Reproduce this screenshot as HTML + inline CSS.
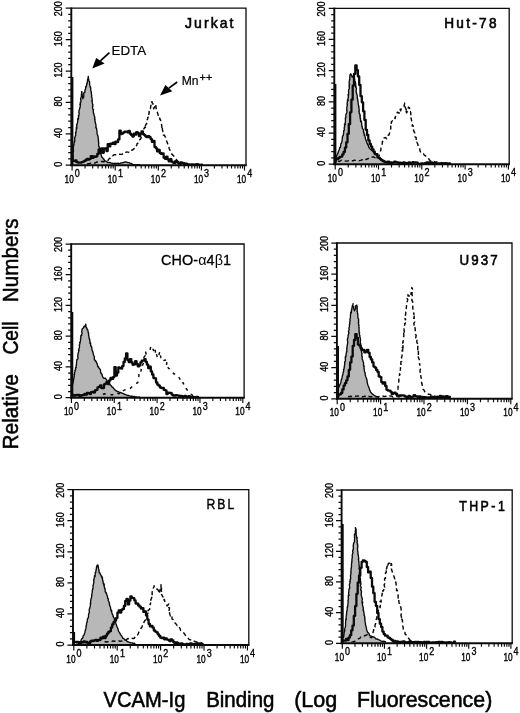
<!DOCTYPE html>
<html lang="en">
<head>
<meta charset="utf-8">
<title>VCAM-Ig binding histograms</title>
<style>
html,body{margin:0;padding:0;background:#fff;}
body{width:520px;height:713px;overflow:hidden;font-family:"Liberation Sans", sans-serif;}
svg{display:block;filter:grayscale(1);}
</style>
</head>
<body>
<svg width="520" height="713" viewBox="0 0 520 713" font-family='"Liberation Sans", sans-serif' fill="#000">
<rect x="0" y="0" width="520" height="713" fill="#fff"/>
<g id="p1">
<path d="M72.6 160.0 L72.7 158.9 L72.8 158.4 L72.9 156.9 L72.9 155.6 L73.1 155.0 L73.0 153.4 L73.3 152.3 L73.1 152.0 L73.5 151.4 L73.4 149.9 L73.3 148.2 L73.4 147.7 L73.5 146.2 L73.7 144.9 L74.0 144.5 L74.0 143.6 L74.2 142.6 L74.2 141.5 L74.7 141.4 L74.8 140.1 L74.7 138.2 L74.8 137.1 L75.1 137.0 L75.3 136.1 L75.7 135.3 L75.5 132.4 L75.8 133.3 L76.0 132.4 L76.3 129.4 L76.2 130.0 L76.4 127.4 L76.9 128.4 L76.7 125.4 L76.7 124.3 L77.0 125.0 L77.3 123.4 L77.7 121.5 L77.8 120.3 L77.8 119.2 L77.8 118.5 L78.4 119.3 L78.6 116.6 L78.4 115.4 L78.8 115.9 L79.2 113.1 L78.8 112.4 L79.0 112.7 L79.0 110.5 L79.6 109.0 L79.7 108.4 L79.7 107.7 L79.9 108.1 L80.3 106.1 L79.9 104.1 L80.5 104.9 L80.2 102.3 L80.8 102.4 L81.0 100.1 L80.9 100.8 L80.6 98.6 L81.4 96.7 L81.3 96.1 L81.5 95.2 L81.3 95.0 L81.7 92.9 L81.5 91.7 L82.1 91.8 L81.8 93.1 L82.0 95.0 L82.2 93.9 L82.3 96.1 L82.7 96.6 L82.7 98.7 L83.5 97.1 L83.6 97.5 L83.8 95.7 L83.7 93.3 L84.6 91.9 L84.9 92.5 L84.9 89.8 L85.2 89.8 L85.7 88.4 L85.6 86.7 L86.1 87.3 L86.2 86.2 L86.7 85.3 L86.8 83.2 L87.2 83.5 L87.4 81.3 L87.5 81.3 L87.6 79.7 L88.0 78.5 L88.3 76.3 L88.7 79.5 L88.6 79.9 L88.9 81.0 L89.4 81.3 L89.5 81.5 L89.6 82.4 L89.6 84.6 L90.0 86.1 L90.6 87.0 L90.1 87.2 L90.8 88.3 L90.6 89.1 L91.1 91.8 L91.3 91.7 L91.3 92.4 L91.3 93.1 L91.7 95.6 L91.5 96.8 L91.5 97.1 L91.8 97.0 L92.2 99.7 L92.4 100.4 L91.9 100.4 L92.1 101.8 L92.3 102.3 L92.5 104.3 L92.9 104.5 L92.7 107.2 L92.5 106.0 L92.7 108.9 L93.2 109.5 L93.6 109.6 L93.2 109.9 L93.3 112.0 L93.7 113.9 L93.7 113.3 L94.2 115.5 L94.5 116.5 L94.9 118.0 L94.5 118.7 L94.6 119.2 L95.0 119.1 L95.0 121.8 L95.3 121.8 L95.6 123.8 L95.9 124.7 L96.1 125.1 L95.8 127.4 L96.4 128.5 L96.4 127.6 L96.8 129.8 L96.8 130.3 L97.1 132.4 L97.0 133.5 L97.1 133.9 L97.6 135.1 L97.7 135.9 L98.0 136.1 L98.2 138.6 L98.2 138.8 L98.5 139.5 L98.3 141.4 L98.5 141.2 L98.8 143.0 L98.6 144.0 L98.7 145.6 L98.9 146.6 L99.3 147.0 L99.2 147.8 L99.5 149.4 L99.6 150.9 L99.7 152.1 L100.0 153.1 L100.6 153.4 L101.2 154.6 L101.5 156.0 L102.0 157.3 L102.6 157.6 L103.4 159.0 L104.0 159.2 L104.5 160.7 L105.3 160.9 L106.3 161.3 L107.0 161.9 L108.0 162.7 L109.1 162.4 L110.0 162.7 L110.9 163.0 L112.0 163.1 L113.1 163.6 L114.0 163.3 L115.0 163.2 L116.1 163.6 L117.0 163.3 L118.0 163.1 L118.9 163.6 L119.9 163.4 L121.1 162.8 L122.2 162.9 L123.4 162.5 L124.6 162.1 L125.7 161.9 L126.7 162.2 L127.9 162.6 L129.0 162.7 L130.0 163.2 L131.2 163.4 L132.3 164.1 L133.4 164.6 L134.4 164.7 L135.7 164.8 L136.7 164.9 L137.9 164.7 L139.0 164.7 L140.0 165.0 L140.0 165.2 L72.6 165.2 Z" fill="#b8b8b8" stroke="none"/>
<path d="M72.6 160.0 L72.7 158.9 L72.8 158.4 L72.9 156.9 L72.9 155.6 L73.1 155.0 L73.0 153.4 L73.3 152.3 L73.1 152.0 L73.5 151.4 L73.4 149.9 L73.3 148.2 L73.4 147.7 L73.5 146.2 L73.7 144.9 L74.0 144.5 L74.0 143.6 L74.2 142.6 L74.2 141.5 L74.7 141.4 L74.8 140.1 L74.7 138.2 L74.8 137.1 L75.1 137.0 L75.3 136.1 L75.7 135.3 L75.5 132.4 L75.8 133.3 L76.0 132.4 L76.3 129.4 L76.2 130.0 L76.4 127.4 L76.9 128.4 L76.7 125.4 L76.7 124.3 L77.0 125.0 L77.3 123.4 L77.7 121.5 L77.8 120.3 L77.8 119.2 L77.8 118.5 L78.4 119.3 L78.6 116.6 L78.4 115.4 L78.8 115.9 L79.2 113.1 L78.8 112.4 L79.0 112.7 L79.0 110.5 L79.6 109.0 L79.7 108.4 L79.7 107.7 L79.9 108.1 L80.3 106.1 L79.9 104.1 L80.5 104.9 L80.2 102.3 L80.8 102.4 L81.0 100.1 L80.9 100.8 L80.6 98.6 L81.4 96.7 L81.3 96.1 L81.5 95.2 L81.3 95.0 L81.7 92.9 L81.5 91.7 L82.1 91.8 L81.8 93.1 L82.0 95.0 L82.2 93.9 L82.3 96.1 L82.7 96.6 L82.7 98.7 L83.5 97.1 L83.6 97.5 L83.8 95.7 L83.7 93.3 L84.6 91.9 L84.9 92.5 L84.9 89.8 L85.2 89.8 L85.7 88.4 L85.6 86.7 L86.1 87.3 L86.2 86.2 L86.7 85.3 L86.8 83.2 L87.2 83.5 L87.4 81.3 L87.5 81.3 L87.6 79.7 L88.0 78.5 L88.3 76.3 L88.7 79.5 L88.6 79.9 L88.9 81.0 L89.4 81.3 L89.5 81.5 L89.6 82.4 L89.6 84.6 L90.0 86.1 L90.6 87.0 L90.1 87.2 L90.8 88.3 L90.6 89.1 L91.1 91.8 L91.3 91.7 L91.3 92.4 L91.3 93.1 L91.7 95.6 L91.5 96.8 L91.5 97.1 L91.8 97.0 L92.2 99.7 L92.4 100.4 L91.9 100.4 L92.1 101.8 L92.3 102.3 L92.5 104.3 L92.9 104.5 L92.7 107.2 L92.5 106.0 L92.7 108.9 L93.2 109.5 L93.6 109.6 L93.2 109.9 L93.3 112.0 L93.7 113.9 L93.7 113.3 L94.2 115.5 L94.5 116.5 L94.9 118.0 L94.5 118.7 L94.6 119.2 L95.0 119.1 L95.0 121.8 L95.3 121.8 L95.6 123.8 L95.9 124.7 L96.1 125.1 L95.8 127.4 L96.4 128.5 L96.4 127.6 L96.8 129.8 L96.8 130.3 L97.1 132.4 L97.0 133.5 L97.1 133.9 L97.6 135.1 L97.7 135.9 L98.0 136.1 L98.2 138.6 L98.2 138.8 L98.5 139.5 L98.3 141.4 L98.5 141.2 L98.8 143.0 L98.6 144.0 L98.7 145.6 L98.9 146.6 L99.3 147.0 L99.2 147.8 L99.5 149.4 L99.6 150.9 L99.7 152.1 L100.0 153.1 L100.6 153.4 L101.2 154.6 L101.5 156.0 L102.0 157.3 L102.6 157.6 L103.4 159.0 L104.0 159.2 L104.5 160.7 L105.3 160.9 L106.3 161.3 L107.0 161.9 L108.0 162.7 L109.1 162.4 L110.0 162.7 L110.9 163.0 L112.0 163.1 L113.1 163.6 L114.0 163.3 L115.0 163.2 L116.1 163.6 L117.0 163.3 L118.0 163.1 L118.9 163.6 L119.9 163.4 L121.1 162.8 L122.2 162.9 L123.4 162.5 L124.6 162.1 L125.7 161.9 L126.7 162.2 L127.9 162.6 L129.0 162.7 L130.0 163.2 L131.2 163.4 L132.3 164.1 L133.4 164.6 L134.4 164.7 L135.7 164.8 L136.7 164.9 L137.9 164.7 L139.0 164.7 L140.0 165.0" fill="none" stroke="#0a0a0a" stroke-width="1.35" stroke-linejoin="round"/>
<path d="M87.0 164.0 L88.5 163.7 L89.8 163.7 L91.3 162.8 L92.8 162.8 L94.2 163.0 L95.7 162.7 L97.0 162.0 L98.5 161.9 L99.9 161.6 L101.3 161.4 L102.6 161.5 L103.8 161.9 L105.4 160.4 L106.4 160.3 L108.1 160.3 L109.2 158.6 L110.4 158.0 L111.3 156.2 L112.6 155.9 L114.3 154.7 L115.7 154.7 L117.2 154.7 L118.5 154.1 L120.5 154.3 L121.9 154.4 L123.3 153.0 L125.0 153.3 L126.3 152.0 L128.0 152.1 L129.5 152.5 L131.1 150.3 L132.4 150.1 L133.8 148.8 L135.5 148.3 L136.0 146.4 L136.8 145.2 L137.1 143.6 L138.1 143.0 L138.6 141.0 L139.1 140.1 L140.3 139.4 L141.0 138.1 L141.6 136.0 L141.6 135.2 L142.9 135.0 L143.0 131.5 L143.6 132.3 L143.8 129.1 L145.0 126.9 L145.9 128.6 L145.5 125.4 L146.6 123.3 L146.8 123.7 L147.0 120.1 L147.4 119.5 L148.1 117.3 L147.6 118.1 L148.7 114.5 L149.1 113.0 L149.2 112.4 L149.1 111.6 L149.5 108.7 L150.4 108.6 L150.9 105.1 L150.5 104.6 L151.6 103.1 L151.5 102.0 L152.2 101.7 L152.0 102.7 L152.9 103.6 L152.9 105.9 L153.1 105.9 L153.7 108.8 L155.7 104.3 L156.2 108.8 L156.8 110.2 L157.1 110.3 L156.8 111.2 L157.4 112.5 L158.4 115.9 L159.0 115.8 L159.5 115.7 L159.7 119.1 L160.1 119.0 L160.7 120.7 L160.5 121.5 L161.5 123.5 L161.8 126.5 L161.8 128.5 L162.3 127.0 L162.4 129.7 L163.0 131.7 L163.4 131.8 L163.5 135.2 L164.2 134.9 L164.7 135.8 L165.5 137.3 L166.0 139.6 L166.4 140.3 L167.3 142.9 L167.7 143.7 L168.5 146.6 L168.9 146.6 L169.3 149.0 L170.0 150.2 L170.5 152.0 L170.9 152.8 L171.8 154.1 L172.7 154.9 L173.5 155.8 L174.5 156.9 L175.4 158.1 L176.7 160.0 L177.9 161.3 L179.1 161.9 L180.3 162.9 L181.8 162.6 L183.2 163.8 L184.6 164.0" fill="none" stroke="#0a0a0a" stroke-width="1.45" stroke-dasharray="4.2 3" stroke-linejoin="round"/>
<path d="M72.6 155.9V160.9H73.9V161.0H75.2V160.4H76.5V162.2H77.8V162.7H79.1V162.6H80.4V162.6H81.7V162.1H83.0V161.6H84.3V160.9H85.6V160.0H86.9V158.8H88.2V159.6H89.5V158.8H90.8V156.1H92.1V157.9H93.4V156.5H94.7V156.9H96.0V156.3H97.3V153.9H98.6V149.7H99.9V152.7H101.2V148.4H102.5V152.8H103.8V148.3H105.1V148.4H106.4V151.1H107.7V144.2H109.0V146.4H110.3V143.7H111.6V143.9H112.9V142.6H114.2V144.2H115.5V141.7H116.8V142.0H118.1V139.4H119.4V130.6H120.7V134.1H122.0V133.4H123.3V132.4H124.6V131.6H125.9V131.7H127.2V132.3H128.5V131.0H129.8V133.7H131.1V135.1H132.4V136.5H133.7V133.6H135.0V134.7H136.3V132.1H137.6V133.2H138.9V136.0H140.2V133.7H141.5V131.5H142.8V134.2H144.1V135.1H145.4V136.5H146.7V137.2H148.0V136.1H149.3V137.2H150.6V139.1H151.9V141.9H153.2V140.9H154.5V146.9H155.8V148.3H157.1V151.4H158.4V149.9H159.7V153.0H161.0V153.9H162.3V153.3H163.6V157.7H164.9V158.8H166.2V156.6H167.5V159.4H168.8V161.4H170.1V159.2H171.4V161.7H172.7V162.6H174.0V163.2H175.3V161.1H176.6V161.8H177.9V162.9H179.2V163.8H180.5V162.4H181.8V163.0H183.1V163.1H184.4V164.4H185.7V163.6H187.0V164.3H188.3V164.4H189.6V164.7H190.9V164.5H192.2V164.5H193.5V164.8H194.8V164.7H196.1V164.2H197.4V164.5H198.7V164.8H200.0V164.8H201.3V164.7H202.0" fill="none" stroke="#0a0a0a" stroke-width="2.3" stroke-linejoin="round" stroke-linecap="round"/>
<path d="M71.3 8.2H246.0V165.2" fill="none" stroke="#0a0a0a" stroke-width="1.3"/>
<line x1="71.3" y1="7.5" x2="71.3" y2="166.1" stroke="#0a0a0a" stroke-width="1.9"/>
<line x1="70.4" y1="165.2" x2="246.7" y2="165.2" stroke="#0a0a0a" stroke-width="1.9"/>
<line x1="72.5" y1="77.0" x2="72.5" y2="165.2" stroke="#0a0a0a" stroke-width="1.8"/>
<path d="M71.3 165.20h-5.6 M71.3 158.92h-3.1 M71.3 152.64h-3.1 M71.3 146.36h-3.1 M71.3 140.08h-3.1 M71.3 133.80h-5.6 M71.3 127.52h-3.1 M71.3 121.24h-3.1 M71.3 114.96h-3.1 M71.3 108.68h-3.1 M71.3 102.40h-5.6 M71.3 96.12h-3.1 M71.3 89.84h-3.1 M71.3 83.56h-3.1 M71.3 77.28h-3.1 M71.3 71.00h-5.6 M71.3 64.72h-3.1 M71.3 58.44h-3.1 M71.3 52.16h-3.1 M71.3 45.88h-3.1 M71.3 39.60h-5.6 M71.3 33.32h-3.1 M71.3 27.04h-3.1 M71.3 20.76h-3.1 M71.3 14.48h-3.1 M71.3 8.20h-5.6" stroke="#0a0a0a" stroke-width="1.25" fill="none"/>
<path d="M72.10 165.2v5.4 M85.07 165.2v3.4 M92.66 165.2v3.4 M98.05 165.2v3.4 M102.23 165.2v3.4 M105.64 165.2v3.4 M108.52 165.2v3.4 M111.02 165.2v3.4 M113.23 165.2v3.4 M115.20 165.2v5.4 M128.17 165.2v3.4 M135.76 165.2v3.4 M141.15 165.2v3.4 M145.33 165.2v3.4 M148.74 165.2v3.4 M151.62 165.2v3.4 M154.12 165.2v3.4 M156.33 165.2v3.4 M158.30 165.2v5.4 M171.27 165.2v3.4 M178.86 165.2v3.4 M184.25 165.2v3.4 M188.43 165.2v3.4 M191.84 165.2v3.4 M194.72 165.2v3.4 M197.22 165.2v3.4 M199.43 165.2v3.4 M201.40 165.2v5.4 M214.37 165.2v3.4 M221.96 165.2v3.4 M227.35 165.2v3.4 M231.53 165.2v3.4 M234.94 165.2v3.4 M237.82 165.2v3.4 M240.32 165.2v3.4 M242.53 165.2v3.4 M244.50 165.2v5.4" stroke="#0a0a0a" stroke-width="1.15" fill="none"/>
<text transform="translate(62.3 164.3) rotate(-90)" text-anchor="middle" font-size="10.3" textLength="5.0" lengthAdjust="spacingAndGlyphs" stroke="#000" stroke-width="0.35">0</text>
<text transform="translate(62.3 132.9) rotate(-90)" text-anchor="middle" font-size="10.3" textLength="10.0" lengthAdjust="spacingAndGlyphs" stroke="#000" stroke-width="0.35">40</text>
<text transform="translate(62.3 101.5) rotate(-90)" text-anchor="middle" font-size="10.3" textLength="10.0" lengthAdjust="spacingAndGlyphs" stroke="#000" stroke-width="0.35">80</text>
<text transform="translate(62.3 70.1) rotate(-90)" text-anchor="middle" font-size="10.3" textLength="15.0" lengthAdjust="spacingAndGlyphs" stroke="#000" stroke-width="0.35">120</text>
<text transform="translate(62.3 38.7) rotate(-90)" text-anchor="middle" font-size="10.3" textLength="15.0" lengthAdjust="spacingAndGlyphs" stroke="#000" stroke-width="0.35">160</text>
<text transform="translate(62.3 8.8) rotate(-90)" text-anchor="middle" font-size="10.3" textLength="15.0" lengthAdjust="spacingAndGlyphs" stroke="#000" stroke-width="0.35">200</text>
<text x="64.6" y="182.8" font-size="11.2" textLength="9.2" lengthAdjust="spacingAndGlyphs" stroke="#000" stroke-width="0.4">10</text>
<text x="74.8" y="177.2" font-size="10.2" textLength="5.0" lengthAdjust="spacingAndGlyphs" stroke="#000" stroke-width="0.35">0</text>
<text x="107.7" y="182.8" font-size="11.2" textLength="9.2" lengthAdjust="spacingAndGlyphs" stroke="#000" stroke-width="0.4">10</text>
<text x="117.9" y="177.2" font-size="10.2" textLength="5.0" lengthAdjust="spacingAndGlyphs" stroke="#000" stroke-width="0.35">1</text>
<text x="150.8" y="182.8" font-size="11.2" textLength="9.2" lengthAdjust="spacingAndGlyphs" stroke="#000" stroke-width="0.4">10</text>
<text x="161.0" y="177.2" font-size="10.2" textLength="5.0" lengthAdjust="spacingAndGlyphs" stroke="#000" stroke-width="0.35">2</text>
<text x="193.9" y="182.8" font-size="11.2" textLength="9.2" lengthAdjust="spacingAndGlyphs" stroke="#000" stroke-width="0.4">10</text>
<text x="204.1" y="177.2" font-size="10.2" textLength="5.0" lengthAdjust="spacingAndGlyphs" stroke="#000" stroke-width="0.35">3</text>
<text x="237.0" y="182.8" font-size="11.2" textLength="9.2" lengthAdjust="spacingAndGlyphs" stroke="#000" stroke-width="0.4">10</text>
<text x="247.2" y="177.2" font-size="10.2" textLength="5.0" lengthAdjust="spacingAndGlyphs" stroke="#000" stroke-width="0.35">4</text>
<text transform="translate(185.0 27.5) scale(0.99 1)" font-size="14.2" letter-spacing="2.08" stroke="#000" stroke-width="0.55">Jurkat</text>
</g>
<g id="p2">
<path d="M336.1 157.0 L336.6 155.7 L337.0 155.1 L337.6 153.7 L338.0 153.3 L338.3 152.0 L338.9 150.4 L339.1 150.1 L339.4 149.3 L339.7 147.5 L340.3 147.5 L340.6 146.3 L340.8 144.0 L341.0 143.6 L341.4 143.3 L342.0 140.9 L342.2 139.8 L342.2 139.4 L342.4 138.1 L342.3 136.8 L342.6 137.0 L342.8 135.8 L343.4 135.2 L343.5 133.7 L343.7 132.4 L343.7 130.4 L343.7 130.8 L344.4 130.0 L344.2 127.9 L344.4 126.9 L344.6 127.2 L344.5 123.9 L345.3 124.5 L345.1 123.0 L345.4 122.1 L345.4 120.3 L345.5 120.1 L345.3 118.1 L346.0 117.5 L345.9 116.5 L345.7 115.4 L346.3 113.8 L346.1 114.5 L346.5 113.3 L346.8 112.8 L347.0 110.6 L346.8 110.9 L346.8 109.7 L346.8 107.4 L346.8 107.6 L347.4 104.7 L347.3 105.4 L347.1 104.5 L347.3 102.1 L347.4 101.4 L347.6 99.6 L348.2 100.6 L347.9 99.2 L348.4 97.0 L348.3 96.6 L348.1 94.4 L348.6 95.3 L348.6 94.4 L348.7 92.3 L348.6 92.3 L348.6 90.6 L348.5 90.1 L349.3 88.9 L349.1 86.3 L349.4 86.8 L349.1 85.6 L349.7 84.2 L349.2 84.4 L349.2 81.4 L349.6 80.2 L350.0 79.5 L349.6 79.7 L349.8 78.4 L349.8 77.3 L349.9 75.5 L350.4 75.0 L350.0 74.4 L350.7 73.8 L351.0 75.1 L351.2 74.5 L351.8 75.8 L352.2 77.2 L353.1 76.4 L353.6 75.5 L354.0 76.7 L354.2 79.0 L354.6 79.0 L354.5 81.1 L355.0 81.2 L355.5 82.6 L355.5 82.6 L355.5 84.1 L355.8 84.0 L355.6 87.2 L356.2 86.7 L355.7 87.2 L356.4 88.1 L356.2 90.8 L356.0 91.5 L356.5 92.6 L356.6 93.3 L356.6 94.0 L356.9 94.2 L357.2 95.7 L357.4 98.1 L357.2 98.2 L357.5 99.0 L358.0 100.7 L357.8 100.3 L358.1 102.3 L358.3 104.3 L358.4 104.7 L358.6 105.8 L358.7 106.9 L359.0 106.8 L358.9 108.1 L359.3 110.2 L358.8 111.6 L359.1 111.0 L359.2 112.2 L359.3 113.6 L360.0 114.0 L359.8 116.1 L360.3 115.5 L360.0 118.0 L360.5 118.2 L360.5 120.1 L360.8 121.8 L361.4 121.1 L361.5 121.9 L361.6 123.0 L361.7 124.3 L362.0 126.9 L362.3 126.7 L362.2 127.4 L362.5 128.7 L363.2 129.3 L363.4 130.0 L363.6 132.8 L363.8 131.9 L364.1 132.9 L364.2 135.2 L364.7 134.8 L364.8 136.0 L365.4 137.6 L365.3 138.4 L366.0 140.1 L365.9 140.6 L366.5 141.0 L366.8 142.6 L367.4 143.9 L367.8 145.1 L368.0 144.7 L368.5 145.7 L368.8 147.6 L369.3 147.6 L370.3 149.2 L371.0 149.7 L371.7 150.6 L372.4 150.7 L373.3 151.6 L373.9 153.0 L374.8 152.9 L375.5 154.4 L376.3 154.8 L377.2 155.3 L378.0 156.8 L378.7 157.1 L379.6 158.6 L380.4 158.9 L381.2 160.0 L382.2 159.9 L383.0 160.5 L384.1 161.1 L385.0 161.8 L386.0 162.4 L387.1 162.5 L388.1 163.0 L389.0 163.1 L390.2 163.3 L391.2 163.3 L392.1 163.7 L393.2 163.5 L393.2 164.2 L336.1 164.2 Z" fill="#b8b8b8" stroke="none"/>
<path d="M336.1 157.0 L336.6 155.7 L337.0 155.1 L337.6 153.7 L338.0 153.3 L338.3 152.0 L338.9 150.4 L339.1 150.1 L339.4 149.3 L339.7 147.5 L340.3 147.5 L340.6 146.3 L340.8 144.0 L341.0 143.6 L341.4 143.3 L342.0 140.9 L342.2 139.8 L342.2 139.4 L342.4 138.1 L342.3 136.8 L342.6 137.0 L342.8 135.8 L343.4 135.2 L343.5 133.7 L343.7 132.4 L343.7 130.4 L343.7 130.8 L344.4 130.0 L344.2 127.9 L344.4 126.9 L344.6 127.2 L344.5 123.9 L345.3 124.5 L345.1 123.0 L345.4 122.1 L345.4 120.3 L345.5 120.1 L345.3 118.1 L346.0 117.5 L345.9 116.5 L345.7 115.4 L346.3 113.8 L346.1 114.5 L346.5 113.3 L346.8 112.8 L347.0 110.6 L346.8 110.9 L346.8 109.7 L346.8 107.4 L346.8 107.6 L347.4 104.7 L347.3 105.4 L347.1 104.5 L347.3 102.1 L347.4 101.4 L347.6 99.6 L348.2 100.6 L347.9 99.2 L348.4 97.0 L348.3 96.6 L348.1 94.4 L348.6 95.3 L348.6 94.4 L348.7 92.3 L348.6 92.3 L348.6 90.6 L348.5 90.1 L349.3 88.9 L349.1 86.3 L349.4 86.8 L349.1 85.6 L349.7 84.2 L349.2 84.4 L349.2 81.4 L349.6 80.2 L350.0 79.5 L349.6 79.7 L349.8 78.4 L349.8 77.3 L349.9 75.5 L350.4 75.0 L350.0 74.4 L350.7 73.8 L351.0 75.1 L351.2 74.5 L351.8 75.8 L352.2 77.2 L353.1 76.4 L353.6 75.5 L354.0 76.7 L354.2 79.0 L354.6 79.0 L354.5 81.1 L355.0 81.2 L355.5 82.6 L355.5 82.6 L355.5 84.1 L355.8 84.0 L355.6 87.2 L356.2 86.7 L355.7 87.2 L356.4 88.1 L356.2 90.8 L356.0 91.5 L356.5 92.6 L356.6 93.3 L356.6 94.0 L356.9 94.2 L357.2 95.7 L357.4 98.1 L357.2 98.2 L357.5 99.0 L358.0 100.7 L357.8 100.3 L358.1 102.3 L358.3 104.3 L358.4 104.7 L358.6 105.8 L358.7 106.9 L359.0 106.8 L358.9 108.1 L359.3 110.2 L358.8 111.6 L359.1 111.0 L359.2 112.2 L359.3 113.6 L360.0 114.0 L359.8 116.1 L360.3 115.5 L360.0 118.0 L360.5 118.2 L360.5 120.1 L360.8 121.8 L361.4 121.1 L361.5 121.9 L361.6 123.0 L361.7 124.3 L362.0 126.9 L362.3 126.7 L362.2 127.4 L362.5 128.7 L363.2 129.3 L363.4 130.0 L363.6 132.8 L363.8 131.9 L364.1 132.9 L364.2 135.2 L364.7 134.8 L364.8 136.0 L365.4 137.6 L365.3 138.4 L366.0 140.1 L365.9 140.6 L366.5 141.0 L366.8 142.6 L367.4 143.9 L367.8 145.1 L368.0 144.7 L368.5 145.7 L368.8 147.6 L369.3 147.6 L370.3 149.2 L371.0 149.7 L371.7 150.6 L372.4 150.7 L373.3 151.6 L373.9 153.0 L374.8 152.9 L375.5 154.4 L376.3 154.8 L377.2 155.3 L378.0 156.8 L378.7 157.1 L379.6 158.6 L380.4 158.9 L381.2 160.0 L382.2 159.9 L383.0 160.5 L384.1 161.1 L385.0 161.8 L386.0 162.4 L387.1 162.5 L388.1 163.0 L389.0 163.1 L390.2 163.3 L391.2 163.3 L392.1 163.7 L393.2 163.5" fill="none" stroke="#0a0a0a" stroke-width="1.35" stroke-linejoin="round"/>
<path d="M338.0 161.0 L339.4 161.5 L341.2 160.3 L342.4 160.5 L343.9 160.9 L345.4 161.1 L346.9 161.1 L348.6 160.7 L350.1 160.7 L351.3 160.7 L353.0 160.8 L354.4 160.1 L356.0 160.7 L357.6 160.8 L359.0 160.7 L360.5 160.4 L362.2 159.8 L363.6 159.8 L365.1 160.5 L366.5 159.0 L367.7 159.0 L369.2 157.6 L370.8 157.0 L372.0 157.0 L373.6 156.9 L374.9 157.6 L376.5 157.8 L378.0 158.7 L378.5 157.5 L379.0 156.1 L379.7 153.6 L379.9 152.4 L380.6 150.8 L380.8 150.4 L381.0 148.0 L381.4 147.6 L381.9 145.5 L382.3 143.5 L382.4 141.6 L383.3 140.9 L383.2 139.6 L383.4 138.2 L385.5 137.5 L386.7 138.8 L387.4 137.2 L388.2 134.9 L389.1 134.9 L389.8 131.9 L389.7 131.1 L390.4 130.1 L390.8 128.2 L390.7 124.8 L390.8 125.5 L391.4 122.5 L391.3 122.1 L393.4 119.7 L394.0 119.9 L394.7 117.9 L395.2 118.6 L395.7 115.0 L396.4 114.1 L397.5 112.2 L399.1 113.2 L400.1 109.2 L400.6 110.8 L402.1 107.2 L403.3 106.6 L404.0 106.3 L404.7 103.1 L404.9 104.6 L405.3 107.5 L406.2 109.7 L406.3 108.2 L406.2 111.6 L406.5 112.7 L406.9 112.2 L408.4 110.3 L408.1 109.6 L408.4 107.1 L409.6 108.0 L409.1 111.3 L410.1 111.4 L410.7 112.3 L410.9 116.4 L411.5 116.1 L411.0 118.2 L411.3 118.9 L412.0 122.5 L412.6 123.5 L412.2 126.1 L413.2 125.7 L413.0 128.3 L413.1 129.3 L413.3 129.1 L413.8 131.2 L414.8 133.1 L414.7 133.4 L415.1 136.8 L415.6 137.3 L416.1 137.5 L416.4 140.6 L416.3 142.3 L416.8 142.0 L417.9 144.4 L418.1 146.7 L418.9 147.5 L419.6 148.4 L420.0 150.9 L420.6 152.3 L420.9 153.2 L422.0 153.5 L423.5 153.9 L424.3 155.1 L425.5 155.9 L426.7 156.9 L427.8 157.7 L428.8 159.0 L429.9 160.6 L431.1 161.3 L432.4 162.1 L433.9 161.4 L435.1 162.2 L436.5 162.0 L437.9 162.5 L439.5 162.4 L440.7 163.3 L442.3 163.2 L443.5 163.3 L445.0 163.5" fill="none" stroke="#0a0a0a" stroke-width="1.45" stroke-dasharray="4.2 3" stroke-linejoin="round"/>
<path d="M335.8 161.6V158.3H337.1V159.0H338.4V157.9H339.7V156.8H341.0V156.6H342.3V154.3H343.6V151.9H344.9V147.7H346.2V142.3H347.5V133.8H348.8V124.1H350.1V112.3H351.4V99.7H352.7V85.6H354.0V73.9H355.3V65.5H356.6V70.1H357.9V76.4H359.2V84.9H360.5V96.2H361.8V102.3H363.1V111.3H364.4V120.0H365.7V129.8H367.0V135.0H368.3V140.4H369.6V144.0H370.9V146.6H372.2V149.3H373.5V151.7H374.8V154.1H376.1V154.1H377.4V157.4H378.7V158.0H380.0V159.1H381.3V160.2H382.6V161.0H383.9V161.7H385.2V162.2H386.5V162.0H387.8V161.6H389.1V162.4H390.4V162.5H391.7V162.8H393.0V162.6H394.3V161.6H395.6V162.2H396.9V162.5H398.2V163.2H399.5V162.7H400.8V163.2H402.1V163.0H403.4V162.3H404.7V162.9H406.0V163.2H407.3V163.1H408.6V162.3H409.9V163.2H411.2V162.8H412.5V162.2H413.8V162.8H415.1V162.3H416.4V162.6H417.7V163.8H419.0V163.8H420.3V163.6H421.6V163.4H422.9V163.8H424.2V163.4H425.5V162.8H426.8V162.5H428.1V163.6H429.4V162.5H430.7V162.5H432.0V163.1H433.3V163.3H434.6V163.0H435.9V163.7H437.2V163.3H438.5V163.5H439.8V163.5H441.1V163.2H442.4V163.5H443.7V163.8H445.0V163.1H446.3V163.5H447.6V163.7H448.9V163.3H450.0" fill="none" stroke="#0a0a0a" stroke-width="2.3" stroke-linejoin="round" stroke-linecap="round"/>
<path d="M334.3 8.3H509.2V164.2" fill="none" stroke="#0a0a0a" stroke-width="1.3"/>
<line x1="334.3" y1="7.6" x2="334.3" y2="165.1" stroke="#0a0a0a" stroke-width="1.9"/>
<line x1="333.4" y1="164.2" x2="509.9" y2="164.2" stroke="#0a0a0a" stroke-width="1.9"/>
<line x1="335.5" y1="84.0" x2="335.5" y2="164.2" stroke="#0a0a0a" stroke-width="1.8"/>
<path d="M334.3 164.20h-5.6 M334.3 157.96h-3.1 M334.3 151.73h-3.1 M334.3 145.49h-3.1 M334.3 139.26h-3.1 M334.3 133.02h-5.6 M334.3 126.78h-3.1 M334.3 120.55h-3.1 M334.3 114.31h-3.1 M334.3 108.08h-3.1 M334.3 101.84h-5.6 M334.3 95.60h-3.1 M334.3 89.37h-3.1 M334.3 83.13h-3.1 M334.3 76.90h-3.1 M334.3 70.66h-5.6 M334.3 64.42h-3.1 M334.3 58.19h-3.1 M334.3 51.95h-3.1 M334.3 45.72h-3.1 M334.3 39.48h-5.6 M334.3 33.24h-3.1 M334.3 27.01h-3.1 M334.3 20.77h-3.1 M334.3 14.54h-3.1 M334.3 8.30h-5.6" stroke="#0a0a0a" stroke-width="1.25" fill="none"/>
<path d="M335.20 164.2v5.4 M348.23 164.2v3.4 M355.86 164.2v3.4 M361.27 164.2v3.4 M365.47 164.2v3.4 M368.89 164.2v3.4 M371.79 164.2v3.4 M374.30 164.2v3.4 M376.52 164.2v3.4 M378.50 164.2v5.4 M391.53 164.2v3.4 M399.16 164.2v3.4 M404.57 164.2v3.4 M408.77 164.2v3.4 M412.19 164.2v3.4 M415.09 164.2v3.4 M417.60 164.2v3.4 M419.82 164.2v3.4 M421.80 164.2v5.4 M434.83 164.2v3.4 M442.46 164.2v3.4 M447.87 164.2v3.4 M452.07 164.2v3.4 M455.49 164.2v3.4 M458.39 164.2v3.4 M460.90 164.2v3.4 M463.12 164.2v3.4 M465.10 164.2v5.4 M478.13 164.2v3.4 M485.76 164.2v3.4 M491.17 164.2v3.4 M495.37 164.2v3.4 M498.79 164.2v3.4 M501.69 164.2v3.4 M504.20 164.2v3.4 M506.42 164.2v3.4 M508.40 164.2v5.4" stroke="#0a0a0a" stroke-width="1.15" fill="none"/>
<text transform="translate(325.3 163.3) rotate(-90)" text-anchor="middle" font-size="10.3" textLength="5.0" lengthAdjust="spacingAndGlyphs" stroke="#000" stroke-width="0.35">0</text>
<text transform="translate(325.3 132.1) rotate(-90)" text-anchor="middle" font-size="10.3" textLength="10.0" lengthAdjust="spacingAndGlyphs" stroke="#000" stroke-width="0.35">40</text>
<text transform="translate(325.3 100.9) rotate(-90)" text-anchor="middle" font-size="10.3" textLength="10.0" lengthAdjust="spacingAndGlyphs" stroke="#000" stroke-width="0.35">80</text>
<text transform="translate(325.3 69.8) rotate(-90)" text-anchor="middle" font-size="10.3" textLength="15.0" lengthAdjust="spacingAndGlyphs" stroke="#000" stroke-width="0.35">120</text>
<text transform="translate(325.3 38.6) rotate(-90)" text-anchor="middle" font-size="10.3" textLength="15.0" lengthAdjust="spacingAndGlyphs" stroke="#000" stroke-width="0.35">160</text>
<text transform="translate(325.3 8.9) rotate(-90)" text-anchor="middle" font-size="10.3" textLength="15.0" lengthAdjust="spacingAndGlyphs" stroke="#000" stroke-width="0.35">200</text>
<text x="327.7" y="181.8" font-size="11.2" textLength="9.2" lengthAdjust="spacingAndGlyphs" stroke="#000" stroke-width="0.4">10</text>
<text x="337.9" y="176.2" font-size="10.2" textLength="5.0" lengthAdjust="spacingAndGlyphs" stroke="#000" stroke-width="0.35">0</text>
<text x="371.0" y="181.8" font-size="11.2" textLength="9.2" lengthAdjust="spacingAndGlyphs" stroke="#000" stroke-width="0.4">10</text>
<text x="381.2" y="176.2" font-size="10.2" textLength="5.0" lengthAdjust="spacingAndGlyphs" stroke="#000" stroke-width="0.35">1</text>
<text x="414.3" y="181.8" font-size="11.2" textLength="9.2" lengthAdjust="spacingAndGlyphs" stroke="#000" stroke-width="0.4">10</text>
<text x="424.5" y="176.2" font-size="10.2" textLength="5.0" lengthAdjust="spacingAndGlyphs" stroke="#000" stroke-width="0.35">2</text>
<text x="457.6" y="181.8" font-size="11.2" textLength="9.2" lengthAdjust="spacingAndGlyphs" stroke="#000" stroke-width="0.4">10</text>
<text x="467.8" y="176.2" font-size="10.2" textLength="5.0" lengthAdjust="spacingAndGlyphs" stroke="#000" stroke-width="0.35">3</text>
<text x="500.9" y="181.8" font-size="11.2" textLength="9.2" lengthAdjust="spacingAndGlyphs" stroke="#000" stroke-width="0.4">10</text>
<text x="511.1" y="176.2" font-size="10.2" textLength="5.0" lengthAdjust="spacingAndGlyphs" stroke="#000" stroke-width="0.35">4</text>
<text transform="translate(444.2 27.5) scale(0.96 1)" font-size="14.2" letter-spacing="2.39" stroke="#000" stroke-width="0.6">Hut-78</text>
</g>
<g id="p3">
<path d="M72.8 384.6 L72.8 382.9 L73.2 382.4 L73.2 380.9 L73.6 380.0 L73.8 378.8 L73.7 378.5 L74.0 377.3 L74.4 376.0 L74.1 374.4 L74.5 374.8 L74.6 372.5 L75.1 371.7 L74.9 370.4 L75.3 370.1 L75.7 369.8 L75.5 367.6 L76.2 367.6 L76.2 364.9 L76.3 365.6 L76.6 363.2 L76.4 363.3 L76.6 362.1 L76.9 359.7 L77.1 359.4 L77.6 359.1 L77.9 358.8 L78.0 357.9 L77.7 355.2 L78.1 354.9 L77.9 354.0 L78.7 351.8 L78.7 351.8 L78.6 349.5 L79.0 350.5 L78.8 349.7 L79.4 347.3 L79.6 346.3 L79.2 345.5 L80.0 343.4 L79.6 342.4 L80.2 341.9 L80.2 342.1 L80.6 340.2 L80.5 338.6 L80.9 338.4 L80.7 336.0 L81.4 335.2 L81.7 335.5 L81.4 334.6 L82.2 333.6 L81.6 331.5 L82.0 330.5 L82.1 329.0 L83.3 327.9 L83.8 326.8 L84.2 326.2 L84.9 326.7 L85.7 324.2 L86.0 326.4 L86.3 327.8 L86.8 327.9 L87.1 328.8 L87.0 329.7 L87.8 329.9 L88.2 332.3 L88.3 333.2 L88.7 333.0 L88.5 334.0 L88.7 335.2 L88.9 336.7 L89.2 338.8 L89.6 338.8 L89.8 341.1 L89.9 340.3 L90.0 343.4 L90.6 342.7 L90.6 344.1 L90.8 346.2 L91.0 345.7 L91.6 347.0 L91.9 348.1 L91.8 348.3 L92.2 350.6 L92.8 351.3 L92.5 351.8 L93.0 352.2 L93.3 353.8 L93.2 354.1 L94.0 356.0 L94.4 356.7 L94.3 358.4 L94.4 359.9 L95.3 360.4 L95.4 361.2 L96.1 361.2 L96.4 362.4 L97.3 364.1 L97.5 365.3 L97.8 366.7 L98.5 366.7 L98.8 367.9 L99.6 368.6 L99.9 369.3 L100.5 370.0 L100.6 372.2 L101.3 373.7 L101.4 373.2 L102.2 374.9 L102.2 375.4 L102.7 376.7 L103.3 377.9 L104.1 378.4 L105.4 378.2 L106.2 379.3 L106.9 380.3 L107.5 381.9 L107.9 382.6 L108.5 382.7 L109.2 384.3 L110.1 384.7 L110.6 385.2 L111.5 386.1 L112.1 387.2 L112.9 387.2 L113.5 388.3 L114.4 389.3 L115.2 390.1 L115.9 390.7 L116.8 391.1 L117.6 391.4 L118.7 391.9 L119.5 392.5 L120.5 392.5 L121.7 392.9 L122.5 393.3 L123.5 393.6 L124.4 394.4 L125.3 394.5 L126.4 395.0 L127.4 395.4 L128.5 395.5 L129.7 395.9 L130.7 396.2 L132.1 396.2 L133.0 396.6 L134.0 396.5 L134.9 396.7 L136.0 396.8 L137.0 397.0 L137.9 397.1 L139.0 397.1 L140.0 397.0 L140.0 397.7 L72.8 397.7 Z" fill="#b8b8b8" stroke="none"/>
<path d="M72.8 384.6 L72.8 382.9 L73.2 382.4 L73.2 380.9 L73.6 380.0 L73.8 378.8 L73.7 378.5 L74.0 377.3 L74.4 376.0 L74.1 374.4 L74.5 374.8 L74.6 372.5 L75.1 371.7 L74.9 370.4 L75.3 370.1 L75.7 369.8 L75.5 367.6 L76.2 367.6 L76.2 364.9 L76.3 365.6 L76.6 363.2 L76.4 363.3 L76.6 362.1 L76.9 359.7 L77.1 359.4 L77.6 359.1 L77.9 358.8 L78.0 357.9 L77.7 355.2 L78.1 354.9 L77.9 354.0 L78.7 351.8 L78.7 351.8 L78.6 349.5 L79.0 350.5 L78.8 349.7 L79.4 347.3 L79.6 346.3 L79.2 345.5 L80.0 343.4 L79.6 342.4 L80.2 341.9 L80.2 342.1 L80.6 340.2 L80.5 338.6 L80.9 338.4 L80.7 336.0 L81.4 335.2 L81.7 335.5 L81.4 334.6 L82.2 333.6 L81.6 331.5 L82.0 330.5 L82.1 329.0 L83.3 327.9 L83.8 326.8 L84.2 326.2 L84.9 326.7 L85.7 324.2 L86.0 326.4 L86.3 327.8 L86.8 327.9 L87.1 328.8 L87.0 329.7 L87.8 329.9 L88.2 332.3 L88.3 333.2 L88.7 333.0 L88.5 334.0 L88.7 335.2 L88.9 336.7 L89.2 338.8 L89.6 338.8 L89.8 341.1 L89.9 340.3 L90.0 343.4 L90.6 342.7 L90.6 344.1 L90.8 346.2 L91.0 345.7 L91.6 347.0 L91.9 348.1 L91.8 348.3 L92.2 350.6 L92.8 351.3 L92.5 351.8 L93.0 352.2 L93.3 353.8 L93.2 354.1 L94.0 356.0 L94.4 356.7 L94.3 358.4 L94.4 359.9 L95.3 360.4 L95.4 361.2 L96.1 361.2 L96.4 362.4 L97.3 364.1 L97.5 365.3 L97.8 366.7 L98.5 366.7 L98.8 367.9 L99.6 368.6 L99.9 369.3 L100.5 370.0 L100.6 372.2 L101.3 373.7 L101.4 373.2 L102.2 374.9 L102.2 375.4 L102.7 376.7 L103.3 377.9 L104.1 378.4 L105.4 378.2 L106.2 379.3 L106.9 380.3 L107.5 381.9 L107.9 382.6 L108.5 382.7 L109.2 384.3 L110.1 384.7 L110.6 385.2 L111.5 386.1 L112.1 387.2 L112.9 387.2 L113.5 388.3 L114.4 389.3 L115.2 390.1 L115.9 390.7 L116.8 391.1 L117.6 391.4 L118.7 391.9 L119.5 392.5 L120.5 392.5 L121.7 392.9 L122.5 393.3 L123.5 393.6 L124.4 394.4 L125.3 394.5 L126.4 395.0 L127.4 395.4 L128.5 395.5 L129.7 395.9 L130.7 396.2 L132.1 396.2 L133.0 396.6 L134.0 396.5 L134.9 396.7 L136.0 396.8 L137.0 397.0 L137.9 397.1 L139.0 397.1 L140.0 397.0" fill="none" stroke="#0a0a0a" stroke-width="1.35" stroke-linejoin="round"/>
<path d="M103.0 394.5 L104.4 393.7 L106.3 394.0 L107.8 394.3 L109.3 393.6 L110.9 394.7 L112.6 394.8 L113.7 393.8 L115.2 394.1 L116.9 392.5 L118.4 393.7 L119.4 393.6 L120.8 391.7 L122.2 392.8 L123.5 390.6 L124.9 389.8 L126.3 389.8 L128.2 389.1 L129.2 387.9 L130.2 388.4 L131.5 387.2 L132.3 386.4 L133.6 384.9 L135.4 384.2 L135.9 383.4 L137.8 382.7 L138.1 381.1 L137.9 378.4 L138.2 378.6 L138.9 375.9 L138.9 373.9 L140.3 371.8 L140.7 373.0 L141.0 370.9 L141.0 371.0 L141.3 368.2 L141.5 365.6 L141.6 366.4 L142.5 365.6 L143.4 363.0 L142.9 361.8 L143.2 358.4 L145.1 355.8 L145.6 357.3 L145.1 356.8 L146.5 356.3 L145.7 352.3 L146.9 350.1 L147.8 348.9 L150.2 349.3 L151.0 345.6 L151.6 346.5 L152.5 347.1 L152.6 348.2 L153.5 350.6 L155.2 347.3 L155.4 352.4 L155.5 354.0 L155.9 352.1 L157.5 357.9 L157.2 355.6 L158.9 355.3 L159.7 351.6 L160.3 351.4 L159.9 352.3 L160.9 357.7 L161.8 359.7 L161.0 360.1 L162.7 360.8 L162.7 360.9 L165.4 360.0 L165.6 364.3 L166.8 362.5 L166.6 364.7 L167.7 368.1 L167.4 366.7 L168.8 368.6 L169.3 368.6 L171.5 372.1 L172.3 372.0 L174.0 374.1 L175.4 373.5 L176.2 374.9 L177.4 375.7 L178.8 377.3 L179.8 378.7 L180.1 381.3 L181.4 380.5 L182.3 382.6 L183.2 382.8 L184.1 385.6 L185.4 385.5 L186.3 386.8 L186.4 389.1 L187.3 390.0 L188.2 392.1 L189.2 392.3 L190.4 394.2 L191.5 394.5 L193.0 395.9 L194.4 395.8 L195.8 396.5" fill="none" stroke="#0a0a0a" stroke-width="1.45" stroke-dasharray="3 5.2" stroke-linejoin="round"/>
<path d="M72.8 394.6V395.1H74.1V395.7H75.4V395.2H76.7V395.0H78.0V394.8H79.3V396.1H80.6V395.5H81.9V395.2H83.2V394.9H84.5V393.9H85.8V394.5H87.1V393.0H88.4V393.1H89.7V394.1H91.0V392.1H92.3V392.0H93.6V392.6H94.9V390.4H96.2V389.8H97.5V387.3H98.8V386.8H100.1V385.3H101.4V388.2H102.7V388.1H104.0V384.4H105.3V383.6H106.6V381.9H107.9V384.1H109.2V380.3H110.5V378.0H111.8V378.9H113.1V377.1H114.4V367.2H115.7V375.5H117.0V372.7H118.3V367.3H119.6V368.2H120.9V368.5H122.2V366.1H123.5V362.0H124.8V358.3H126.1V353.3H127.4V359.9H128.7V362.1H130.0V359.1H131.3V362.4H132.6V364.8H133.9V364.4H135.2V361.1H136.5V364.0H137.8V366.4H139.1V365.4H140.4V362.3H141.7V360.7H143.0V360.7H144.3V359.1H145.6V361.8H146.9V364.7H148.2V368.2H149.5V366.7H150.8V371.4H152.1V374.5H153.4V378.0H154.7V378.3H156.0V382.5H157.3V384.7H158.6V385.7H159.9V387.5H161.2V388.1H162.5V388.0H163.8V389.9H165.1V390.3H166.4V394.0H167.7V392.6H169.0V392.9H170.3V392.9H171.6V394.6H172.9V395.5H174.2V395.7H175.5V395.1H176.8V395.4H178.1V395.6H179.4V396.4H180.7V396.0H182.0V396.4H183.3V397.3H184.6V395.8H185.9V396.6H187.2V396.7H188.5V396.2H189.8V397.3H191.1V396.8H192.4V397.1H193.7V397.2H195.0V397.3H196.3V396.8H197.6V396.8H198.0" fill="none" stroke="#0a0a0a" stroke-width="2.3" stroke-linejoin="round" stroke-linecap="round"/>
<path d="M71.2 244.0H244.1V397.7" fill="none" stroke="#0a0a0a" stroke-width="1.3"/>
<line x1="71.2" y1="243.3" x2="71.2" y2="398.6" stroke="#0a0a0a" stroke-width="1.9"/>
<line x1="70.3" y1="397.7" x2="244.8" y2="397.7" stroke="#0a0a0a" stroke-width="1.9"/>
<line x1="72.4" y1="312.0" x2="72.4" y2="397.7" stroke="#0a0a0a" stroke-width="1.8"/>
<path d="M71.2 397.70h-5.6 M71.2 391.55h-3.1 M71.2 385.40h-3.1 M71.2 379.26h-3.1 M71.2 373.11h-3.1 M71.2 366.96h-5.6 M71.2 360.81h-3.1 M71.2 354.66h-3.1 M71.2 348.52h-3.1 M71.2 342.37h-3.1 M71.2 336.22h-5.6 M71.2 330.07h-3.1 M71.2 323.92h-3.1 M71.2 317.78h-3.1 M71.2 311.63h-3.1 M71.2 305.48h-5.6 M71.2 299.33h-3.1 M71.2 293.18h-3.1 M71.2 287.04h-3.1 M71.2 280.89h-3.1 M71.2 274.74h-5.6 M71.2 268.59h-3.1 M71.2 262.44h-3.1 M71.2 256.30h-3.1 M71.2 250.15h-3.1 M71.2 244.00h-5.6" stroke="#0a0a0a" stroke-width="1.25" fill="none"/>
<path d="M71.40 397.7v5.4 M84.30 397.7v3.4 M91.84 397.7v3.4 M97.20 397.7v3.4 M101.35 397.7v3.4 M104.74 397.7v3.4 M107.61 397.7v3.4 M110.10 397.7v3.4 M112.29 397.7v3.4 M114.25 397.7v5.4 M127.15 397.7v3.4 M134.69 397.7v3.4 M140.05 397.7v3.4 M144.20 397.7v3.4 M147.59 397.7v3.4 M150.46 397.7v3.4 M152.95 397.7v3.4 M155.14 397.7v3.4 M157.10 397.7v5.4 M170.00 397.7v3.4 M177.54 397.7v3.4 M182.90 397.7v3.4 M187.05 397.7v3.4 M190.44 397.7v3.4 M193.31 397.7v3.4 M195.80 397.7v3.4 M197.99 397.7v3.4 M199.95 397.7v5.4 M212.85 397.7v3.4 M220.39 397.7v3.4 M225.75 397.7v3.4 M229.90 397.7v3.4 M233.29 397.7v3.4 M236.16 397.7v3.4 M238.65 397.7v3.4 M240.84 397.7v3.4 M242.80 397.7v5.4" stroke="#0a0a0a" stroke-width="1.15" fill="none"/>
<text transform="translate(62.2 396.8) rotate(-90)" text-anchor="middle" font-size="10.3" textLength="5.0" lengthAdjust="spacingAndGlyphs" stroke="#000" stroke-width="0.35">0</text>
<text transform="translate(62.2 366.1) rotate(-90)" text-anchor="middle" font-size="10.3" textLength="10.0" lengthAdjust="spacingAndGlyphs" stroke="#000" stroke-width="0.35">40</text>
<text transform="translate(62.2 335.3) rotate(-90)" text-anchor="middle" font-size="10.3" textLength="10.0" lengthAdjust="spacingAndGlyphs" stroke="#000" stroke-width="0.35">80</text>
<text transform="translate(62.2 304.6) rotate(-90)" text-anchor="middle" font-size="10.3" textLength="15.0" lengthAdjust="spacingAndGlyphs" stroke="#000" stroke-width="0.35">120</text>
<text transform="translate(62.2 273.8) rotate(-90)" text-anchor="middle" font-size="10.3" textLength="15.0" lengthAdjust="spacingAndGlyphs" stroke="#000" stroke-width="0.35">160</text>
<text transform="translate(62.2 244.6) rotate(-90)" text-anchor="middle" font-size="10.3" textLength="15.0" lengthAdjust="spacingAndGlyphs" stroke="#000" stroke-width="0.35">200</text>
<text x="63.9" y="415.3" font-size="11.2" textLength="9.2" lengthAdjust="spacingAndGlyphs" stroke="#000" stroke-width="0.4">10</text>
<text x="74.1" y="409.7" font-size="10.2" textLength="5.0" lengthAdjust="spacingAndGlyphs" stroke="#000" stroke-width="0.35">0</text>
<text x="106.8" y="415.3" font-size="11.2" textLength="9.2" lengthAdjust="spacingAndGlyphs" stroke="#000" stroke-width="0.4">10</text>
<text x="117.0" y="409.7" font-size="10.2" textLength="5.0" lengthAdjust="spacingAndGlyphs" stroke="#000" stroke-width="0.35">1</text>
<text x="149.6" y="415.3" font-size="11.2" textLength="9.2" lengthAdjust="spacingAndGlyphs" stroke="#000" stroke-width="0.4">10</text>
<text x="159.8" y="409.7" font-size="10.2" textLength="5.0" lengthAdjust="spacingAndGlyphs" stroke="#000" stroke-width="0.35">2</text>
<text x="192.5" y="415.3" font-size="11.2" textLength="9.2" lengthAdjust="spacingAndGlyphs" stroke="#000" stroke-width="0.4">10</text>
<text x="202.7" y="409.7" font-size="10.2" textLength="5.0" lengthAdjust="spacingAndGlyphs" stroke="#000" stroke-width="0.35">3</text>
<text x="235.3" y="415.3" font-size="11.2" textLength="9.2" lengthAdjust="spacingAndGlyphs" stroke="#000" stroke-width="0.4">10</text>
<text x="245.5" y="409.7" font-size="10.2" textLength="5.0" lengthAdjust="spacingAndGlyphs" stroke="#000" stroke-width="0.35">4</text>
<text x="161.0" y="264.6" font-size="14.4" textLength="70.0" lengthAdjust="spacing" stroke="#000" stroke-width="0.3">CHO-<tspan stroke-width="0">α</tspan>4<tspan stroke-width="0">β</tspan>1</text>
</g>
<g id="p4">
<path d="M338.6 388.0 L338.9 386.9 L339.4 385.7 L339.7 385.2 L340.0 384.3 L340.4 383.6 L340.8 382.7 L341.0 381.8 L341.2 379.9 L341.5 379.7 L341.9 378.6 L342.2 376.6 L342.5 375.5 L342.4 375.8 L342.9 374.6 L343.1 372.5 L343.4 371.5 L343.7 371.5 L343.5 369.2 L343.9 369.3 L344.3 367.4 L344.2 367.7 L344.5 365.2 L344.7 364.8 L344.7 363.9 L344.6 361.8 L345.2 361.8 L345.3 360.7 L345.6 359.9 L345.3 359.2 L345.3 356.9 L346.0 355.6 L346.0 356.7 L346.1 353.8 L346.4 352.8 L346.5 353.0 L346.4 351.9 L346.9 351.5 L346.7 349.0 L346.9 349.2 L346.9 347.4 L346.9 347.7 L347.3 344.9 L347.5 344.0 L347.7 343.1 L347.7 342.3 L347.7 342.2 L347.4 339.9 L347.6 338.4 L347.6 339.0 L348.1 336.9 L348.0 335.7 L348.4 334.9 L348.7 333.6 L348.6 333.8 L348.6 332.6 L349.0 332.7 L348.4 331.3 L349.2 329.7 L349.0 328.8 L348.9 327.8 L349.4 327.0 L349.4 324.4 L349.4 324.6 L349.9 323.8 L349.6 323.3 L350.1 320.4 L350.2 320.5 L349.9 320.1 L350.1 318.4 L350.5 317.9 L350.4 315.5 L350.4 315.3 L350.7 313.3 L350.8 312.0 L351.3 313.0 L351.5 309.8 L351.7 310.3 L352.0 307.6 L352.3 306.9 L352.2 306.1 L352.8 304.7 L353.1 303.7 L352.8 305.5 L353.4 307.0 L353.9 306.6 L353.6 308.2 L354.4 310.5 L354.3 310.7 L354.9 310.0 L355.2 309.3 L355.7 307.9 L355.6 305.8 L356.4 305.5 L356.8 305.1 L356.8 305.3 L356.7 305.6 L357.2 306.5 L357.2 309.9 L357.2 310.3 L357.1 311.5 L357.4 311.5 L357.5 313.8 L357.6 313.1 L357.9 315.8 L357.9 317.0 L357.9 317.8 L358.6 319.0 L358.5 320.0 L358.7 321.0 L358.3 322.2 L358.8 322.9 L358.4 322.7 L358.7 325.1 L359.1 325.2 L358.7 326.1 L359.0 327.6 L359.2 327.6 L358.9 330.1 L359.4 330.9 L359.0 331.2 L359.2 332.6 L359.7 332.6 L359.2 333.6 L360.0 336.0 L359.6 335.7 L360.0 337.3 L360.0 337.1 L360.4 338.6 L360.5 340.0 L360.4 341.1 L360.2 341.2 L360.4 342.8 L360.5 343.5 L360.8 344.3 L361.1 347.4 L361.3 347.6 L361.1 348.9 L360.8 349.2 L361.5 351.3 L361.5 352.1 L361.8 353.1 L361.8 354.5 L362.0 353.2 L361.8 355.6 L361.8 356.3 L362.3 356.3 L362.1 358.8 L362.9 360.5 L362.8 361.4 L362.9 361.3 L363.5 362.3 L363.6 364.5 L363.5 364.7 L363.6 366.1 L364.2 366.0 L364.0 367.3 L364.1 368.7 L364.3 369.8 L364.5 371.4 L364.8 372.4 L365.3 373.4 L365.2 374.7 L365.4 375.7 L365.6 375.7 L365.8 377.0 L366.5 378.1 L366.6 379.5 L366.9 379.5 L367.1 380.9 L367.1 381.6 L367.5 383.8 L367.6 383.8 L367.9 385.2 L368.2 385.8 L368.7 387.1 L369.0 387.9 L369.4 388.9 L369.7 390.3 L370.1 390.6 L370.5 391.8 L371.4 393.1 L372.1 393.8 L372.7 394.1 L373.5 394.7 L374.2 395.6 L375.6 396.1 L376.7 396.6 L377.9 396.9 L379.0 397.3 L379.0 398.8 L338.6 398.8 Z" fill="#b8b8b8" stroke="none"/>
<path d="M338.6 388.0 L338.9 386.9 L339.4 385.7 L339.7 385.2 L340.0 384.3 L340.4 383.6 L340.8 382.7 L341.0 381.8 L341.2 379.9 L341.5 379.7 L341.9 378.6 L342.2 376.6 L342.5 375.5 L342.4 375.8 L342.9 374.6 L343.1 372.5 L343.4 371.5 L343.7 371.5 L343.5 369.2 L343.9 369.3 L344.3 367.4 L344.2 367.7 L344.5 365.2 L344.7 364.8 L344.7 363.9 L344.6 361.8 L345.2 361.8 L345.3 360.7 L345.6 359.9 L345.3 359.2 L345.3 356.9 L346.0 355.6 L346.0 356.7 L346.1 353.8 L346.4 352.8 L346.5 353.0 L346.4 351.9 L346.9 351.5 L346.7 349.0 L346.9 349.2 L346.9 347.4 L346.9 347.7 L347.3 344.9 L347.5 344.0 L347.7 343.1 L347.7 342.3 L347.7 342.2 L347.4 339.9 L347.6 338.4 L347.6 339.0 L348.1 336.9 L348.0 335.7 L348.4 334.9 L348.7 333.6 L348.6 333.8 L348.6 332.6 L349.0 332.7 L348.4 331.3 L349.2 329.7 L349.0 328.8 L348.9 327.8 L349.4 327.0 L349.4 324.4 L349.4 324.6 L349.9 323.8 L349.6 323.3 L350.1 320.4 L350.2 320.5 L349.9 320.1 L350.1 318.4 L350.5 317.9 L350.4 315.5 L350.4 315.3 L350.7 313.3 L350.8 312.0 L351.3 313.0 L351.5 309.8 L351.7 310.3 L352.0 307.6 L352.3 306.9 L352.2 306.1 L352.8 304.7 L353.1 303.7 L352.8 305.5 L353.4 307.0 L353.9 306.6 L353.6 308.2 L354.4 310.5 L354.3 310.7 L354.9 310.0 L355.2 309.3 L355.7 307.9 L355.6 305.8 L356.4 305.5 L356.8 305.1 L356.8 305.3 L356.7 305.6 L357.2 306.5 L357.2 309.9 L357.2 310.3 L357.1 311.5 L357.4 311.5 L357.5 313.8 L357.6 313.1 L357.9 315.8 L357.9 317.0 L357.9 317.8 L358.6 319.0 L358.5 320.0 L358.7 321.0 L358.3 322.2 L358.8 322.9 L358.4 322.7 L358.7 325.1 L359.1 325.2 L358.7 326.1 L359.0 327.6 L359.2 327.6 L358.9 330.1 L359.4 330.9 L359.0 331.2 L359.2 332.6 L359.7 332.6 L359.2 333.6 L360.0 336.0 L359.6 335.7 L360.0 337.3 L360.0 337.1 L360.4 338.6 L360.5 340.0 L360.4 341.1 L360.2 341.2 L360.4 342.8 L360.5 343.5 L360.8 344.3 L361.1 347.4 L361.3 347.6 L361.1 348.9 L360.8 349.2 L361.5 351.3 L361.5 352.1 L361.8 353.1 L361.8 354.5 L362.0 353.2 L361.8 355.6 L361.8 356.3 L362.3 356.3 L362.1 358.8 L362.9 360.5 L362.8 361.4 L362.9 361.3 L363.5 362.3 L363.6 364.5 L363.5 364.7 L363.6 366.1 L364.2 366.0 L364.0 367.3 L364.1 368.7 L364.3 369.8 L364.5 371.4 L364.8 372.4 L365.3 373.4 L365.2 374.7 L365.4 375.7 L365.6 375.7 L365.8 377.0 L366.5 378.1 L366.6 379.5 L366.9 379.5 L367.1 380.9 L367.1 381.6 L367.5 383.8 L367.6 383.8 L367.9 385.2 L368.2 385.8 L368.7 387.1 L369.0 387.9 L369.4 388.9 L369.7 390.3 L370.1 390.6 L370.5 391.8 L371.4 393.1 L372.1 393.8 L372.7 394.1 L373.5 394.7 L374.2 395.6 L375.6 396.1 L376.7 396.6 L377.9 396.9 L379.0 397.3" fill="none" stroke="#0a0a0a" stroke-width="1.35" stroke-linejoin="round"/>
<path d="M348.0 396.5 L349.3 396.6 L350.7 396.2 L352.3 396.7 L353.5 396.9 L354.9 396.3 L356.5 396.1 L357.8 395.9 L359.3 396.5 L360.8 396.1 L362.0 396.7 L363.6 396.6 L364.9 396.1 L366.4 396.8 L367.9 395.9 L369.5 396.7 L371.1 396.7 L372.7 396.4 L374.0 396.3 L375.5 396.8 L377.0 396.8 L378.4 396.7 L379.9 396.2 L381.3 396.0 L382.8 396.0 L384.2 396.6 L385.6 396.3 L387.2 396.2 L388.5 396.6 L390.0 396.0 L391.3 396.0 L392.8 396.9 L394.2 396.4 L395.7 396.7 L396.8 396.0 L397.1 394.5 L397.6 392.7 L397.5 392.0 L397.8 390.1 L398.0 388.9 L398.1 386.2 L398.3 385.3 L398.8 383.8 L398.6 382.0 L398.9 381.8 L398.8 378.4 L399.4 377.0 L399.4 377.1 L399.6 373.8 L399.8 374.7 L400.3 373.2 L400.4 369.2 L400.4 369.5 L400.6 366.8 L400.6 364.9 L401.3 364.4 L400.8 364.3 L400.9 361.6 L401.8 361.5 L401.7 357.9 L401.4 357.5 L401.9 356.5 L402.1 355.1 L402.0 350.9 L402.7 349.4 L402.8 351.0 L402.1 347.5 L403.1 348.0 L402.8 343.7 L403.2 342.2 L402.7 343.1 L403.2 340.6 L403.7 338.4 L403.2 337.4 L403.9 336.2 L403.7 333.5 L404.2 334.7 L404.2 331.2 L404.1 328.5 L404.7 327.7 L404.4 325.9 L405.0 323.9 L405.4 323.0 L404.7 323.7 L405.4 320.1 L405.0 318.5 L405.6 319.6 L405.9 316.5 L405.4 316.2 L405.8 312.3 L406.0 311.9 L406.4 311.4 L405.9 310.7 L406.4 307.1 L406.4 307.2 L406.8 303.3 L406.8 302.5 L407.6 300.4 L407.8 299.6 L407.1 298.4 L408.2 298.5 L408.4 296.9 L407.8 294.9 L408.8 295.4 L409.5 297.0 L410.9 295.4 L411.0 293.6 L410.9 292.9 L411.9 293.2 L411.9 290.4 L411.8 287.5 L412.5 288.9 L412.6 288.9 L412.4 288.7 L412.7 291.8 L412.8 292.0 L411.9 293.3 L412.4 296.6 L411.8 296.8 L411.9 300.6 L412.5 301.1 L412.6 302.0 L413.1 303.9 L413.0 304.3 L412.8 306.0 L412.8 309.1 L413.5 309.4 L413.3 309.9 L414.0 314.6 L413.3 312.8 L414.1 314.9 L414.2 318.4 L413.6 318.1 L414.3 321.1 L414.7 321.8 L413.8 323.3 L414.3 325.5 L415.1 326.5 L414.4 326.2 L415.0 327.7 L415.3 329.9 L415.0 333.0 L415.3 334.3 L416.2 335.3 L415.7 338.0 L416.2 338.1 L417.1 338.1 L416.8 341.9 L417.5 343.7 L417.0 344.1 L418.0 344.3 L417.7 348.7 L417.8 349.9 L417.5 349.0 L418.4 351.0 L418.4 354.2 L417.8 356.0 L417.8 355.2 L418.7 358.5 L418.7 358.7 L419.2 359.4 L419.5 363.4 L419.6 364.7 L419.7 363.8 L420.1 366.3 L420.3 369.3 L420.0 370.7 L420.1 372.1 L420.8 373.7 L421.0 373.5 L420.8 375.6 L421.0 377.8 L421.1 377.6 L421.8 379.7 L421.6 382.5 L421.8 383.3 L422.3 385.3 L422.4 386.7 L422.8 388.2 L423.2 389.6 L423.7 389.7 L424.9 391.8 L426.2 392.8 L427.4 393.8 L428.8 394.2 L430.2 394.4 L431.5 395.6 L432.9 396.4 L434.1 396.1 L435.6 396.6 L437.2 396.4 L438.5 397.0 L440.0 397.0" fill="none" stroke="#0a0a0a" stroke-width="1.45" stroke-dasharray="4.2 3" stroke-linejoin="round"/>
<path d="M338.4 396.4V394.7H339.7V394.3H341.0V393.0H342.3V389.4H343.6V385.6H344.9V383.2H346.2V380.3H347.5V376.5H348.8V369.8H350.1V362.4H351.4V356.6H352.7V345.9H354.0V340.0H355.3V334.1H356.6V337.9H357.9V344.6H359.2V345.6H360.5V348.2H361.8V350.2H363.1V349.9H364.4V352.4H365.7V351.6H367.0V349.8H368.3V352.8H369.6V357.0H370.9V359.4H372.2V362.4H373.5V366.6H374.8V367.6H376.1V370.0H377.4V371.8H378.7V376.4H380.0V377.1H381.3V382.1H382.6V383.7H383.9V382.4H385.2V386.0H386.5V389.8H387.8V390.6H389.1V390.6H390.4V391.8H391.7V394.0H393.0V393.1H394.3V392.6H395.6V394.1H396.9V395.5H398.2V396.4H399.5V395.5H400.8V395.5H402.1V395.3H403.4V395.6H404.7V396.4H406.0V396.9H407.3V397.0H408.6V396.0H409.9V396.8H411.2V396.8H412.5V396.6H413.8V395.1H415.1V396.4H416.4V396.3H417.7V397.3H419.0V396.4H420.3V396.9H421.6V396.8H422.9V397.4H424.2V397.2H425.5V397.4H426.8V397.7H428.1V397.4H429.4V397.3H430.7V396.7H432.0V396.9H433.3V398.0H434.6V396.9H435.9V397.2H437.2V396.9H438.5V396.8H439.8V395.9H441.1V398.0H442.4V396.4H443.7V396.6H445.0V397.9H446.3V396.1H447.6V397.2H448.9V396.9H450.0" fill="none" stroke="#0a0a0a" stroke-width="2.3" stroke-linejoin="round" stroke-linecap="round"/>
<path d="M336.9 243.0H512.0V398.8" fill="none" stroke="#0a0a0a" stroke-width="1.3"/>
<line x1="336.9" y1="242.3" x2="336.9" y2="399.7" stroke="#0a0a0a" stroke-width="1.9"/>
<line x1="336.0" y1="398.8" x2="512.7" y2="398.8" stroke="#0a0a0a" stroke-width="1.9"/>
<line x1="338.1" y1="346.0" x2="338.1" y2="398.8" stroke="#0a0a0a" stroke-width="1.8"/>
<path d="M336.9 398.80h-5.6 M336.9 392.57h-3.1 M336.9 386.34h-3.1 M336.9 380.10h-3.1 M336.9 373.87h-3.1 M336.9 367.64h-5.6 M336.9 361.41h-3.1 M336.9 355.18h-3.1 M336.9 348.94h-3.1 M336.9 342.71h-3.1 M336.9 336.48h-5.6 M336.9 330.25h-3.1 M336.9 324.02h-3.1 M336.9 317.78h-3.1 M336.9 311.55h-3.1 M336.9 305.32h-5.6 M336.9 299.09h-3.1 M336.9 292.86h-3.1 M336.9 286.62h-3.1 M336.9 280.39h-3.1 M336.9 274.16h-5.6 M336.9 267.93h-3.1 M336.9 261.70h-3.1 M336.9 255.46h-3.1 M336.9 249.23h-3.1 M336.9 243.00h-5.6" stroke="#0a0a0a" stroke-width="1.25" fill="none"/>
<path d="M337.20 398.8v5.4 M350.26 398.8v3.4 M357.91 398.8v3.4 M363.33 398.8v3.4 M367.54 398.8v3.4 M370.97 398.8v3.4 M373.88 398.8v3.4 M376.39 398.8v3.4 M378.61 398.8v3.4 M380.60 398.8v5.4 M393.66 398.8v3.4 M401.31 398.8v3.4 M406.73 398.8v3.4 M410.94 398.8v3.4 M414.37 398.8v3.4 M417.28 398.8v3.4 M419.79 398.8v3.4 M422.01 398.8v3.4 M424.00 398.8v5.4 M437.06 398.8v3.4 M444.71 398.8v3.4 M450.13 398.8v3.4 M454.34 398.8v3.4 M457.77 398.8v3.4 M460.68 398.8v3.4 M463.19 398.8v3.4 M465.41 398.8v3.4 M467.40 398.8v5.4 M480.46 398.8v3.4 M488.11 398.8v3.4 M493.53 398.8v3.4 M497.74 398.8v3.4 M501.17 398.8v3.4 M504.08 398.8v3.4 M506.59 398.8v3.4 M508.81 398.8v3.4 M510.80 398.8v5.4" stroke="#0a0a0a" stroke-width="1.15" fill="none"/>
<text transform="translate(327.9 397.9) rotate(-90)" text-anchor="middle" font-size="10.3" textLength="5.0" lengthAdjust="spacingAndGlyphs" stroke="#000" stroke-width="0.35">0</text>
<text transform="translate(327.9 366.7) rotate(-90)" text-anchor="middle" font-size="10.3" textLength="10.0" lengthAdjust="spacingAndGlyphs" stroke="#000" stroke-width="0.35">40</text>
<text transform="translate(327.9 335.6) rotate(-90)" text-anchor="middle" font-size="10.3" textLength="10.0" lengthAdjust="spacingAndGlyphs" stroke="#000" stroke-width="0.35">80</text>
<text transform="translate(327.9 304.4) rotate(-90)" text-anchor="middle" font-size="10.3" textLength="15.0" lengthAdjust="spacingAndGlyphs" stroke="#000" stroke-width="0.35">120</text>
<text transform="translate(327.9 273.3) rotate(-90)" text-anchor="middle" font-size="10.3" textLength="15.0" lengthAdjust="spacingAndGlyphs" stroke="#000" stroke-width="0.35">160</text>
<text transform="translate(327.9 243.6) rotate(-90)" text-anchor="middle" font-size="10.3" textLength="15.0" lengthAdjust="spacingAndGlyphs" stroke="#000" stroke-width="0.35">200</text>
<text x="329.7" y="416.4" font-size="11.2" textLength="9.2" lengthAdjust="spacingAndGlyphs" stroke="#000" stroke-width="0.4">10</text>
<text x="339.9" y="410.8" font-size="10.2" textLength="5.0" lengthAdjust="spacingAndGlyphs" stroke="#000" stroke-width="0.35">0</text>
<text x="373.1" y="416.4" font-size="11.2" textLength="9.2" lengthAdjust="spacingAndGlyphs" stroke="#000" stroke-width="0.4">10</text>
<text x="383.3" y="410.8" font-size="10.2" textLength="5.0" lengthAdjust="spacingAndGlyphs" stroke="#000" stroke-width="0.35">1</text>
<text x="416.5" y="416.4" font-size="11.2" textLength="9.2" lengthAdjust="spacingAndGlyphs" stroke="#000" stroke-width="0.4">10</text>
<text x="426.7" y="410.8" font-size="10.2" textLength="5.0" lengthAdjust="spacingAndGlyphs" stroke="#000" stroke-width="0.35">2</text>
<text x="459.9" y="416.4" font-size="11.2" textLength="9.2" lengthAdjust="spacingAndGlyphs" stroke="#000" stroke-width="0.4">10</text>
<text x="470.1" y="410.8" font-size="10.2" textLength="5.0" lengthAdjust="spacingAndGlyphs" stroke="#000" stroke-width="0.35">3</text>
<text x="503.3" y="416.4" font-size="11.2" textLength="9.2" lengthAdjust="spacingAndGlyphs" stroke="#000" stroke-width="0.4">10</text>
<text x="513.5" y="410.8" font-size="10.2" textLength="5.0" lengthAdjust="spacingAndGlyphs" stroke="#000" stroke-width="0.35">4</text>
<text transform="translate(459.6 265.0) scale(0.94 1)" font-size="14.2" letter-spacing="2.16" stroke="#000" stroke-width="0.6">U937</text>
</g>
<g id="p5">
<path d="M75.8 642.9 L76.8 642.3 L77.8 641.9 L78.7 641.6 L79.6 641.7 L80.7 641.4 L81.2 640.1 L81.6 639.1 L82.2 638.6 L82.9 637.6 L83.2 635.7 L84.0 635.1 L84.4 633.8 L84.7 633.0 L84.9 632.7 L85.2 630.7 L85.4 630.0 L85.7 629.0 L85.9 628.7 L86.1 627.5 L86.0 626.1 L86.4 625.7 L86.6 623.1 L86.7 622.7 L86.9 622.6 L87.3 621.5 L87.4 619.2 L87.5 618.7 L88.0 618.2 L88.3 617.6 L88.6 616.2 L88.5 615.5 L88.7 613.7 L89.1 613.2 L89.3 612.3 L89.2 609.5 L89.5 608.6 L89.7 608.7 L89.6 608.3 L90.1 607.0 L90.5 604.7 L90.3 603.3 L90.6 603.4 L90.7 603.5 L90.6 602.2 L90.7 600.2 L91.0 599.6 L90.9 598.9 L91.7 597.1 L91.6 595.0 L91.8 595.6 L91.8 594.3 L91.8 594.2 L92.2 592.6 L92.2 591.6 L92.6 588.9 L92.8 588.5 L92.9 589.2 L93.1 586.7 L92.9 585.7 L93.3 585.1 L93.4 584.3 L93.8 582.6 L93.8 581.4 L93.7 579.6 L93.9 580.6 L94.0 578.5 L94.3 578.3 L94.5 575.6 L95.0 576.7 L95.3 573.4 L95.2 572.5 L95.7 572.6 L95.9 570.5 L96.1 569.8 L96.2 570.3 L96.5 567.0 L96.8 567.0 L96.6 566.8 L97.2 565.2 L97.4 565.0 L97.8 565.2 L98.1 565.1 L98.2 567.1 L98.4 567.0 L98.5 568.6 L99.2 570.9 L98.9 570.7 L99.2 572.9 L99.8 572.7 L100.4 574.5 L100.8 574.9 L101.5 576.8 L101.9 576.2 L102.2 578.6 L102.4 577.5 L102.7 580.7 L102.9 581.4 L103.1 581.0 L103.2 583.5 L104.0 583.7 L103.6 584.9 L104.4 584.7 L104.1 586.5 L104.8 588.1 L104.6 588.5 L105.2 589.2 L105.2 591.6 L105.9 592.5 L106.0 593.0 L106.3 592.7 L106.8 594.6 L106.7 594.7 L107.2 595.6 L107.5 596.6 L107.7 598.5 L108.4 598.9 L108.1 600.5 L108.9 601.7 L109.2 602.5 L109.4 604.3 L109.5 603.3 L109.6 605.4 L110.2 606.3 L110.6 607.9 L110.6 608.8 L111.0 609.5 L111.0 610.8 L111.7 610.5 L111.7 612.6 L112.3 613.7 L112.4 614.4 L112.6 614.2 L113.3 616.5 L113.0 616.4 L113.9 617.7 L114.3 618.4 L114.6 620.4 L114.8 621.6 L115.1 621.2 L115.6 622.5 L115.9 623.4 L116.1 623.9 L116.4 625.1 L117.1 626.9 L117.2 626.9 L117.5 627.8 L118.0 628.9 L118.4 630.8 L118.6 631.1 L119.1 632.0 L119.7 632.9 L120.3 634.2 L121.1 635.5 L121.7 635.9 L122.1 636.8 L122.8 638.3 L123.8 638.4 L124.5 639.6 L125.3 640.1 L126.1 640.2 L126.8 641.0 L127.7 641.8 L128.7 642.0 L129.8 642.5 L131.0 642.8 L132.2 642.8 L133.1 643.6 L134.2 643.2 L135.4 643.8 L135.4 645.0 L75.8 645.0 Z" fill="#b8b8b8" stroke="none"/>
<path d="M75.8 642.9 L76.8 642.3 L77.8 641.9 L78.7 641.6 L79.6 641.7 L80.7 641.4 L81.2 640.1 L81.6 639.1 L82.2 638.6 L82.9 637.6 L83.2 635.7 L84.0 635.1 L84.4 633.8 L84.7 633.0 L84.9 632.7 L85.2 630.7 L85.4 630.0 L85.7 629.0 L85.9 628.7 L86.1 627.5 L86.0 626.1 L86.4 625.7 L86.6 623.1 L86.7 622.7 L86.9 622.6 L87.3 621.5 L87.4 619.2 L87.5 618.7 L88.0 618.2 L88.3 617.6 L88.6 616.2 L88.5 615.5 L88.7 613.7 L89.1 613.2 L89.3 612.3 L89.2 609.5 L89.5 608.6 L89.7 608.7 L89.6 608.3 L90.1 607.0 L90.5 604.7 L90.3 603.3 L90.6 603.4 L90.7 603.5 L90.6 602.2 L90.7 600.2 L91.0 599.6 L90.9 598.9 L91.7 597.1 L91.6 595.0 L91.8 595.6 L91.8 594.3 L91.8 594.2 L92.2 592.6 L92.2 591.6 L92.6 588.9 L92.8 588.5 L92.9 589.2 L93.1 586.7 L92.9 585.7 L93.3 585.1 L93.4 584.3 L93.8 582.6 L93.8 581.4 L93.7 579.6 L93.9 580.6 L94.0 578.5 L94.3 578.3 L94.5 575.6 L95.0 576.7 L95.3 573.4 L95.2 572.5 L95.7 572.6 L95.9 570.5 L96.1 569.8 L96.2 570.3 L96.5 567.0 L96.8 567.0 L96.6 566.8 L97.2 565.2 L97.4 565.0 L97.8 565.2 L98.1 565.1 L98.2 567.1 L98.4 567.0 L98.5 568.6 L99.2 570.9 L98.9 570.7 L99.2 572.9 L99.8 572.7 L100.4 574.5 L100.8 574.9 L101.5 576.8 L101.9 576.2 L102.2 578.6 L102.4 577.5 L102.7 580.7 L102.9 581.4 L103.1 581.0 L103.2 583.5 L104.0 583.7 L103.6 584.9 L104.4 584.7 L104.1 586.5 L104.8 588.1 L104.6 588.5 L105.2 589.2 L105.2 591.6 L105.9 592.5 L106.0 593.0 L106.3 592.7 L106.8 594.6 L106.7 594.7 L107.2 595.6 L107.5 596.6 L107.7 598.5 L108.4 598.9 L108.1 600.5 L108.9 601.7 L109.2 602.5 L109.4 604.3 L109.5 603.3 L109.6 605.4 L110.2 606.3 L110.6 607.9 L110.6 608.8 L111.0 609.5 L111.0 610.8 L111.7 610.5 L111.7 612.6 L112.3 613.7 L112.4 614.4 L112.6 614.2 L113.3 616.5 L113.0 616.4 L113.9 617.7 L114.3 618.4 L114.6 620.4 L114.8 621.6 L115.1 621.2 L115.6 622.5 L115.9 623.4 L116.1 623.9 L116.4 625.1 L117.1 626.9 L117.2 626.9 L117.5 627.8 L118.0 628.9 L118.4 630.8 L118.6 631.1 L119.1 632.0 L119.7 632.9 L120.3 634.2 L121.1 635.5 L121.7 635.9 L122.1 636.8 L122.8 638.3 L123.8 638.4 L124.5 639.6 L125.3 640.1 L126.1 640.2 L126.8 641.0 L127.7 641.8 L128.7 642.0 L129.8 642.5 L131.0 642.8 L132.2 642.8 L133.1 643.6 L134.2 643.2 L135.4 643.8" fill="none" stroke="#0a0a0a" stroke-width="1.35" stroke-linejoin="round"/>
<path d="M104.6 641.5 L105.8 642.0 L107.4 641.7 L108.8 641.9 L110.1 641.8 L111.6 641.8 L112.9 640.9 L114.2 641.3 L115.6 641.0 L117.1 640.6 L118.5 640.7 L120.0 641.3 L121.7 641.0 L123.2 640.7 L124.7 639.9 L126.2 639.9 L127.7 638.5 L129.2 638.8 L130.9 638.0 L132.9 638.5 L134.4 638.2 L135.5 636.1 L137.0 635.7 L138.1 634.1 L138.9 632.0 L139.8 630.4 L140.5 629.2 L141.2 627.9 L142.0 627.0 L142.8 624.2 L143.4 624.3 L144.1 621.9 L144.3 621.5 L145.4 619.9 L146.1 618.8 L146.5 616.9 L147.2 614.3 L147.9 613.2 L148.0 614.0 L148.1 610.1 L148.6 610.1 L149.5 609.5 L149.9 607.3 L150.1 604.8 L150.6 603.0 L150.4 604.2 L151.5 602.4 L150.8 599.6 L151.7 597.9 L151.8 595.9 L151.9 595.1 L152.2 595.8 L152.1 591.9 L152.9 591.0 L152.6 589.6 L153.0 588.6 L154.1 586.7 L154.1 585.7 L155.6 588.8 L157.5 589.3 L158.1 590.1 L158.9 591.7 L159.0 593.7 L159.6 591.9 L159.6 591.1 L160.9 587.8 L161.0 584.8 L161.1 589.2 L161.5 587.6 L161.4 589.8 L161.4 593.2 L161.4 592.7 L161.6 594.4 L162.9 597.0 L163.2 596.1 L164.1 600.0 L164.4 599.5 L165.0 602.3 L166.7 604.8 L167.1 605.9 L168.9 604.0 L168.8 607.4 L169.5 607.8 L168.9 611.2 L169.8 610.6 L169.5 613.1 L170.3 615.9 L171.0 614.7 L171.9 616.9 L172.1 619.1 L173.4 619.6 L174.0 621.0 L175.1 623.2 L175.8 623.7 L177.2 625.7 L178.5 625.4 L179.4 627.3 L180.1 628.7 L180.7 630.6 L181.4 631.1 L182.7 632.5 L184.0 633.1 L185.0 634.7 L186.1 636.4 L187.0 636.9 L188.1 638.1 L189.2 639.6 L190.4 639.8 L191.8 640.0 L192.7 641.1 L194.4 641.2 L196.0 642.1 L197.8 641.6 L199.3 642.3 L200.5 642.5 L202.0 643.2 L203.5 644.0" fill="none" stroke="#0a0a0a" stroke-width="1.45" stroke-dasharray="4.2 3" stroke-linejoin="round"/>
<path d="M75.8 642.0V642.0H77.1V641.8H78.4V643.0H79.7V643.3H81.0V642.2H82.3V642.4H83.6V641.3H84.9V642.3H86.2V641.9H87.5V643.1H88.8V643.2H90.1V641.5H91.4V640.6H92.7V641.1H94.0V640.3H95.3V639.9H96.6V640.9H97.9V639.9H99.2V640.0H100.5V637.7H101.8V638.3H103.1V636.6H104.4V638.0H105.7V635.7H107.0V633.7H108.3V632.0H109.6V631.2H110.9V627.6H112.2V624.5H113.5V622.1H114.8V620.7H116.1V618.1H117.4V612.7H118.7V610.4H120.0V612.5H121.3V609.8H122.6V609.0H123.9V606.0H125.2V601.0H126.5V599.0H127.8V604.4H129.1V600.5H130.4V596.3H131.7V597.8H133.0V598.2H134.3V600.4H135.6V603.5H136.9V603.6H138.2V605.5H139.5V606.7H140.8V608.6H142.1V608.1H143.4V611.9H144.7V611.4H146.0V615.4H147.3V619.6H148.6V624.0H149.9V626.4H151.2V626.0H152.5V627.7H153.8V630.5H155.1V631.6H156.4V632.3H157.7V634.3H159.0V636.0H160.3V637.7H161.6V638.2H162.9V637.7H164.2V639.3H165.5V638.5H166.8V639.6H168.1V639.8H169.4V641.2H170.7V639.3H172.0V640.4H173.3V642.2H174.6V643.6H175.9V642.4H177.2V642.9H178.5V643.9H179.8V644.6H181.1V643.4H182.4V644.1H183.7V644.5H185.0V644.3H186.3V643.9H187.6V644.5H188.9V643.9H190.2V643.5H191.5V643.8H192.8V644.3H194.1V644.0H195.4V643.8H196.7V643.4H198.0V643.5H199.3V644.6H200.6V643.9H201.5" fill="none" stroke="#0a0a0a" stroke-width="2.3" stroke-linejoin="round" stroke-linecap="round"/>
<path d="M73.0 489.6H248.8V645.0" fill="none" stroke="#0a0a0a" stroke-width="1.3"/>
<line x1="73.0" y1="488.9" x2="73.0" y2="645.9" stroke="#0a0a0a" stroke-width="1.9"/>
<line x1="72.1" y1="645.0" x2="249.5" y2="645.0" stroke="#0a0a0a" stroke-width="1.9"/>
<line x1="74.2" y1="632.0" x2="74.2" y2="645.0" stroke="#0a0a0a" stroke-width="1.8"/>
<path d="M73.0 645.00h-5.6 M73.0 638.78h-3.1 M73.0 632.57h-3.1 M73.0 626.35h-3.1 M73.0 620.14h-3.1 M73.0 613.92h-5.6 M73.0 607.70h-3.1 M73.0 601.49h-3.1 M73.0 595.27h-3.1 M73.0 589.06h-3.1 M73.0 582.84h-5.6 M73.0 576.62h-3.1 M73.0 570.41h-3.1 M73.0 564.19h-3.1 M73.0 557.98h-3.1 M73.0 551.76h-5.6 M73.0 545.54h-3.1 M73.0 539.33h-3.1 M73.0 533.11h-3.1 M73.0 526.90h-3.1 M73.0 520.68h-5.6 M73.0 514.46h-3.1 M73.0 508.25h-3.1 M73.0 502.03h-3.1 M73.0 495.82h-3.1 M73.0 489.60h-5.6" stroke="#0a0a0a" stroke-width="1.25" fill="none"/>
<path d="M73.80 645.0v5.4 M86.86 645.0v3.4 M94.51 645.0v3.4 M99.93 645.0v3.4 M104.14 645.0v3.4 M107.57 645.0v3.4 M110.48 645.0v3.4 M112.99 645.0v3.4 M115.21 645.0v3.4 M117.20 645.0v5.4 M130.26 645.0v3.4 M137.91 645.0v3.4 M143.33 645.0v3.4 M147.54 645.0v3.4 M150.97 645.0v3.4 M153.88 645.0v3.4 M156.39 645.0v3.4 M158.61 645.0v3.4 M160.60 645.0v5.4 M173.66 645.0v3.4 M181.31 645.0v3.4 M186.73 645.0v3.4 M190.94 645.0v3.4 M194.37 645.0v3.4 M197.28 645.0v3.4 M199.79 645.0v3.4 M202.01 645.0v3.4 M204.00 645.0v5.4 M217.06 645.0v3.4 M224.71 645.0v3.4 M230.13 645.0v3.4 M234.34 645.0v3.4 M237.77 645.0v3.4 M240.68 645.0v3.4 M243.19 645.0v3.4 M245.41 645.0v3.4 M247.40 645.0v5.4" stroke="#0a0a0a" stroke-width="1.15" fill="none"/>
<text transform="translate(64.0 644.1) rotate(-90)" text-anchor="middle" font-size="10.3" textLength="5.0" lengthAdjust="spacingAndGlyphs" stroke="#000" stroke-width="0.35">0</text>
<text transform="translate(64.0 613.0) rotate(-90)" text-anchor="middle" font-size="10.3" textLength="10.0" lengthAdjust="spacingAndGlyphs" stroke="#000" stroke-width="0.35">40</text>
<text transform="translate(64.0 581.9) rotate(-90)" text-anchor="middle" font-size="10.3" textLength="10.0" lengthAdjust="spacingAndGlyphs" stroke="#000" stroke-width="0.35">80</text>
<text transform="translate(64.0 550.9) rotate(-90)" text-anchor="middle" font-size="10.3" textLength="15.0" lengthAdjust="spacingAndGlyphs" stroke="#000" stroke-width="0.35">120</text>
<text transform="translate(64.0 519.8) rotate(-90)" text-anchor="middle" font-size="10.3" textLength="15.0" lengthAdjust="spacingAndGlyphs" stroke="#000" stroke-width="0.35">160</text>
<text transform="translate(64.0 490.2) rotate(-90)" text-anchor="middle" font-size="10.3" textLength="15.0" lengthAdjust="spacingAndGlyphs" stroke="#000" stroke-width="0.35">200</text>
<text x="66.3" y="662.6" font-size="11.2" textLength="9.2" lengthAdjust="spacingAndGlyphs" stroke="#000" stroke-width="0.4">10</text>
<text x="76.5" y="657.0" font-size="10.2" textLength="5.0" lengthAdjust="spacingAndGlyphs" stroke="#000" stroke-width="0.35">0</text>
<text x="109.7" y="662.6" font-size="11.2" textLength="9.2" lengthAdjust="spacingAndGlyphs" stroke="#000" stroke-width="0.4">10</text>
<text x="119.9" y="657.0" font-size="10.2" textLength="5.0" lengthAdjust="spacingAndGlyphs" stroke="#000" stroke-width="0.35">1</text>
<text x="153.1" y="662.6" font-size="11.2" textLength="9.2" lengthAdjust="spacingAndGlyphs" stroke="#000" stroke-width="0.4">10</text>
<text x="163.3" y="657.0" font-size="10.2" textLength="5.0" lengthAdjust="spacingAndGlyphs" stroke="#000" stroke-width="0.35">2</text>
<text x="196.5" y="662.6" font-size="11.2" textLength="9.2" lengthAdjust="spacingAndGlyphs" stroke="#000" stroke-width="0.4">10</text>
<text x="206.7" y="657.0" font-size="10.2" textLength="5.0" lengthAdjust="spacingAndGlyphs" stroke="#000" stroke-width="0.35">3</text>
<text x="239.9" y="662.6" font-size="11.2" textLength="9.2" lengthAdjust="spacingAndGlyphs" stroke="#000" stroke-width="0.4">10</text>
<text x="250.1" y="657.0" font-size="10.2" textLength="5.0" lengthAdjust="spacingAndGlyphs" stroke="#000" stroke-width="0.35">4</text>
<text transform="translate(206.6 509.4) scale(0.86 1)" font-size="14.2" letter-spacing="2.23" stroke="#000" stroke-width="0.42">RBL</text>
</g>
<g id="p6">
<path d="M343.4 638.0 L343.6 636.9 L343.7 636.2 L344.0 634.7 L344.0 633.8 L344.2 632.7 L344.5 631.3 L344.7 631.2 L344.7 629.8 L344.8 628.5 L345.0 627.9 L345.5 626.2 L345.6 625.3 L345.6 624.7 L345.5 623.7 L345.6 622.8 L345.7 621.3 L345.9 619.7 L346.0 618.6 L346.4 619.1 L346.1 617.3 L346.2 616.2 L346.6 614.9 L346.3 614.7 L346.7 613.4 L346.6 612.2 L346.7 611.2 L347.1 610.8 L347.1 609.7 L347.2 609.4 L347.3 606.7 L347.3 607.4 L347.9 606.0 L347.7 605.2 L348.1 603.3 L348.1 602.9 L348.1 600.6 L347.9 601.0 L348.5 598.7 L348.3 598.5 L348.3 597.3 L348.3 595.7 L348.4 595.1 L349.1 595.3 L348.6 593.6 L348.7 592.6 L348.8 591.0 L348.9 590.3 L349.1 588.8 L349.7 588.2 L349.7 587.5 L349.6 586.9 L349.4 584.3 L349.8 583.4 L350.2 582.9 L349.7 581.6 L350.2 581.6 L350.1 579.2 L350.5 579.1 L350.6 578.9 L350.7 577.3 L350.4 576.1 L350.8 574.3 L350.8 574.6 L350.9 574.3 L351.0 571.7 L350.7 572.2 L351.0 571.2 L351.1 568.2 L351.2 568.8 L351.5 566.5 L351.5 565.1 L351.5 564.7 L351.4 564.1 L351.9 562.3 L351.6 561.9 L352.0 561.2 L351.9 559.0 L352.2 558.1 L352.4 556.9 L352.3 557.1 L352.2 556.0 L352.3 554.8 L352.7 553.6 L352.6 553.2 L353.1 552.2 L352.6 551.6 L352.9 549.9 L353.3 549.6 L353.4 547.7 L353.2 546.9 L353.2 546.8 L353.5 543.7 L353.7 542.9 L353.8 543.1 L353.9 542.9 L354.5 541.8 L354.5 539.8 L354.7 537.7 L354.4 537.5 L354.6 537.7 L354.4 534.7 L354.6 535.4 L354.7 533.9 L355.4 533.4 L355.4 531.3 L355.1 531.5 L355.8 529.5 L355.6 529.6 L355.4 527.6 L356.1 529.3 L355.7 529.7 L356.1 529.7 L356.2 532.1 L355.9 533.5 L356.1 532.5 L356.1 534.3 L356.3 535.2 L356.7 537.6 L356.8 537.1 L357.2 538.1 L356.8 538.9 L357.4 541.1 L356.9 542.4 L357.5 543.3 L357.5 545.1 L357.7 544.5 L357.8 546.7 L357.9 546.5 L357.5 548.2 L357.5 548.7 L357.7 551.3 L357.8 551.7 L358.0 551.8 L357.9 554.3 L358.2 554.3 L358.4 555.5 L358.5 557.4 L358.8 558.4 L358.2 559.3 L358.7 558.5 L358.6 559.9 L358.8 561.7 L359.1 563.3 L359.0 563.0 L359.0 564.6 L359.3 566.3 L359.1 567.2 L359.3 566.7 L359.2 568.2 L359.1 568.8 L359.8 570.7 L359.4 572.1 L359.4 573.9 L359.4 574.3 L360.1 576.0 L359.8 576.7 L360.0 576.7 L360.1 578.9 L360.4 578.3 L360.4 579.7 L360.5 582.0 L360.6 581.0 L360.8 582.8 L360.3 583.6 L361.0 584.0 L360.3 585.8 L361.1 587.0 L361.2 587.3 L360.7 590.2 L360.7 589.3 L360.8 590.0 L361.5 591.4 L361.3 592.9 L361.2 594.4 L361.4 595.8 L361.5 596.2 L361.6 596.5 L361.9 597.9 L362.3 598.2 L362.3 599.8 L362.0 600.4 L362.2 603.4 L362.8 602.0 L362.3 604.1 L362.7 605.6 L363.1 607.4 L363.1 607.7 L363.4 607.9 L363.1 610.3 L363.2 609.5 L363.7 611.5 L364.0 613.1 L363.9 613.3 L364.3 614.4 L364.0 615.1 L364.6 616.1 L364.8 617.1 L364.6 618.3 L365.1 619.2 L364.8 620.1 L365.2 622.2 L365.4 622.8 L365.4 624.6 L365.7 625.1 L366.0 626.1 L366.1 627.1 L366.3 627.6 L366.6 629.6 L366.7 629.9 L367.3 631.6 L368.0 632.8 L368.5 632.8 L369.3 634.4 L369.6 635.6 L370.7 635.8 L371.6 636.5 L372.6 636.6 L373.6 637.0 L374.5 637.2 L375.5 638.6 L376.4 639.2 L377.5 639.0 L378.5 639.8 L379.5 639.9 L380.5 640.8 L381.7 641.1 L382.7 641.4 L383.8 641.2 L384.9 641.6 L386.0 642.0 L386.0 643.3 L343.4 643.3 Z" fill="#b8b8b8" stroke="none"/>
<path d="M343.4 638.0 L343.6 636.9 L343.7 636.2 L344.0 634.7 L344.0 633.8 L344.2 632.7 L344.5 631.3 L344.7 631.2 L344.7 629.8 L344.8 628.5 L345.0 627.9 L345.5 626.2 L345.6 625.3 L345.6 624.7 L345.5 623.7 L345.6 622.8 L345.7 621.3 L345.9 619.7 L346.0 618.6 L346.4 619.1 L346.1 617.3 L346.2 616.2 L346.6 614.9 L346.3 614.7 L346.7 613.4 L346.6 612.2 L346.7 611.2 L347.1 610.8 L347.1 609.7 L347.2 609.4 L347.3 606.7 L347.3 607.4 L347.9 606.0 L347.7 605.2 L348.1 603.3 L348.1 602.9 L348.1 600.6 L347.9 601.0 L348.5 598.7 L348.3 598.5 L348.3 597.3 L348.3 595.7 L348.4 595.1 L349.1 595.3 L348.6 593.6 L348.7 592.6 L348.8 591.0 L348.9 590.3 L349.1 588.8 L349.7 588.2 L349.7 587.5 L349.6 586.9 L349.4 584.3 L349.8 583.4 L350.2 582.9 L349.7 581.6 L350.2 581.6 L350.1 579.2 L350.5 579.1 L350.6 578.9 L350.7 577.3 L350.4 576.1 L350.8 574.3 L350.8 574.6 L350.9 574.3 L351.0 571.7 L350.7 572.2 L351.0 571.2 L351.1 568.2 L351.2 568.8 L351.5 566.5 L351.5 565.1 L351.5 564.7 L351.4 564.1 L351.9 562.3 L351.6 561.9 L352.0 561.2 L351.9 559.0 L352.2 558.1 L352.4 556.9 L352.3 557.1 L352.2 556.0 L352.3 554.8 L352.7 553.6 L352.6 553.2 L353.1 552.2 L352.6 551.6 L352.9 549.9 L353.3 549.6 L353.4 547.7 L353.2 546.9 L353.2 546.8 L353.5 543.7 L353.7 542.9 L353.8 543.1 L353.9 542.9 L354.5 541.8 L354.5 539.8 L354.7 537.7 L354.4 537.5 L354.6 537.7 L354.4 534.7 L354.6 535.4 L354.7 533.9 L355.4 533.4 L355.4 531.3 L355.1 531.5 L355.8 529.5 L355.6 529.6 L355.4 527.6 L356.1 529.3 L355.7 529.7 L356.1 529.7 L356.2 532.1 L355.9 533.5 L356.1 532.5 L356.1 534.3 L356.3 535.2 L356.7 537.6 L356.8 537.1 L357.2 538.1 L356.8 538.9 L357.4 541.1 L356.9 542.4 L357.5 543.3 L357.5 545.1 L357.7 544.5 L357.8 546.7 L357.9 546.5 L357.5 548.2 L357.5 548.7 L357.7 551.3 L357.8 551.7 L358.0 551.8 L357.9 554.3 L358.2 554.3 L358.4 555.5 L358.5 557.4 L358.8 558.4 L358.2 559.3 L358.7 558.5 L358.6 559.9 L358.8 561.7 L359.1 563.3 L359.0 563.0 L359.0 564.6 L359.3 566.3 L359.1 567.2 L359.3 566.7 L359.2 568.2 L359.1 568.8 L359.8 570.7 L359.4 572.1 L359.4 573.9 L359.4 574.3 L360.1 576.0 L359.8 576.7 L360.0 576.7 L360.1 578.9 L360.4 578.3 L360.4 579.7 L360.5 582.0 L360.6 581.0 L360.8 582.8 L360.3 583.6 L361.0 584.0 L360.3 585.8 L361.1 587.0 L361.2 587.3 L360.7 590.2 L360.7 589.3 L360.8 590.0 L361.5 591.4 L361.3 592.9 L361.2 594.4 L361.4 595.8 L361.5 596.2 L361.6 596.5 L361.9 597.9 L362.3 598.2 L362.3 599.8 L362.0 600.4 L362.2 603.4 L362.8 602.0 L362.3 604.1 L362.7 605.6 L363.1 607.4 L363.1 607.7 L363.4 607.9 L363.1 610.3 L363.2 609.5 L363.7 611.5 L364.0 613.1 L363.9 613.3 L364.3 614.4 L364.0 615.1 L364.6 616.1 L364.8 617.1 L364.6 618.3 L365.1 619.2 L364.8 620.1 L365.2 622.2 L365.4 622.8 L365.4 624.6 L365.7 625.1 L366.0 626.1 L366.1 627.1 L366.3 627.6 L366.6 629.6 L366.7 629.9 L367.3 631.6 L368.0 632.8 L368.5 632.8 L369.3 634.4 L369.6 635.6 L370.7 635.8 L371.6 636.5 L372.6 636.6 L373.6 637.0 L374.5 637.2 L375.5 638.6 L376.4 639.2 L377.5 639.0 L378.5 639.8 L379.5 639.9 L380.5 640.8 L381.7 641.1 L382.7 641.4 L383.8 641.2 L384.9 641.6 L386.0 642.0" fill="none" stroke="#0a0a0a" stroke-width="1.35" stroke-linejoin="round"/>
<path d="M351.5 642.0 L352.8 641.9 L354.3 641.5 L355.9 640.5 L357.2 639.8 L358.6 638.6 L359.6 638.6 L361.0 636.5 L362.7 636.6 L364.2 636.0 L365.6 635.3 L367.3 634.8 L368.9 635.1 L370.2 637.1 L371.7 637.8 L372.0 637.1 L372.4 634.7 L372.7 633.7 L373.3 631.4 L373.6 630.5 L373.8 628.1 L374.2 626.7 L375.0 626.9 L375.0 625.3 L375.7 623.3 L375.7 621.3 L376.0 620.8 L376.4 618.7 L376.9 618.2 L376.8 614.8 L377.2 614.9 L377.7 613.5 L378.1 611.7 L378.3 610.6 L379.1 608.4 L379.8 606.5 L380.1 607.6 L380.3 606.0 L380.5 603.4 L380.0 601.5 L381.2 601.9 L380.9 598.2 L381.5 596.8 L382.1 595.1 L382.2 593.2 L382.7 594.3 L382.7 590.6 L383.3 591.1 L384.3 588.2 L383.8 586.8 L384.7 587.0 L384.1 584.9 L385.1 582.9 L384.5 581.5 L384.7 581.5 L384.6 578.6 L385.4 578.4 L385.4 575.8 L385.6 573.8 L385.4 573.0 L386.3 572.3 L385.9 568.5 L386.3 569.5 L387.2 566.1 L387.3 567.6 L388.0 564.8 L388.5 563.2 L390.0 563.1 L391.1 561.6 L391.3 562.6 L391.4 563.9 L390.9 565.4 L391.7 564.8 L391.4 567.1 L391.5 569.3 L392.1 571.2 L392.6 573.2 L393.1 574.8 L393.4 575.6 L394.0 576.2 L394.7 579.1 L394.3 579.6 L394.8 581.1 L395.6 581.2 L396.2 584.4 L395.6 587.0 L396.5 588.9 L396.6 590.6 L397.4 590.3 L397.5 591.1 L397.7 593.0 L398.1 595.3 L398.1 598.1 L398.4 597.4 L398.8 598.2 L398.8 601.0 L399.1 603.0 L400.3 605.4 L399.9 606.2 L400.1 606.2 L401.0 607.7 L401.2 611.0 L401.0 611.2 L401.3 613.7 L400.9 614.9 L401.5 617.3 L401.5 616.8 L402.1 619.5 L401.8 619.1 L402.4 620.5 L402.6 623.2 L402.7 623.7 L402.8 626.5 L403.0 626.5 L403.3 629.1 L403.9 630.3 L404.1 631.9 L405.0 632.5 L405.1 634.2 L406.1 634.9 L407.2 636.9 L408.1 637.5 L409.7 639.8 L410.9 641.0 L412.5 640.9 L414.4 642.1 L416.0 642.0" fill="none" stroke="#0a0a0a" stroke-width="1.45" stroke-dasharray="4.2 3" stroke-linejoin="round"/>
<path d="M343.4 640.5V640.7H344.7V640.7H346.0V639.0H347.3V640.2H348.6V637.6H349.9V635.2H351.2V630.3H352.5V625.7H353.8V615.9H355.1V606.1H356.4V593.8H357.7V582.6H359.0V575.7H360.3V567.8H361.6V561.8H362.9V560.5H364.2V560.8H365.5V561.9H366.8V567.1H368.1V572.4H369.4V571.7H370.7V578.1H372.0V586.7H373.3V593.2H374.6V601.8H375.9V605.9H377.2V613.0H378.5V619.1H379.8V623.7H381.1V627.1H382.4V631.6H383.7V634.1H385.0V635.7H386.3V635.7H387.6V637.4H388.9V638.0H390.2V639.1H391.5V640.0H392.8V641.4H394.1V641.0H395.4V642.0H396.7V641.5H398.0V641.9H399.3V642.6H400.6V641.8H401.9V641.7H403.2V641.5H404.5V642.1H405.8V642.4H407.1V642.9H408.4V641.9H409.7V641.3H411.0V642.3H412.3V642.2H413.6V642.1H414.9V641.8H416.2V642.5H417.5V641.8H418.8V642.6H420.1V642.1H421.4V642.4H422.7V642.5H424.0V641.8H425.3V642.3H426.6V642.0H427.9V642.0H429.2V642.7H430.5V642.7H431.8V642.4H433.1V642.5H434.4V642.7H435.7V642.1H437.0V642.9H438.3V642.0H439.6V642.3H440.9V642.0H442.2V642.1H443.5V642.5H444.8V642.9H446.1V642.4H447.4V642.4H448.7V642.1H450.0V642.4H451.3V642.9H452.6V642.9H453.9V641.7H455.0" fill="none" stroke="#0a0a0a" stroke-width="2.3" stroke-linejoin="round" stroke-linecap="round"/>
<path d="M341.6 490.0H512.2V643.3" fill="none" stroke="#0a0a0a" stroke-width="1.3"/>
<line x1="341.6" y1="489.3" x2="341.6" y2="644.2" stroke="#0a0a0a" stroke-width="1.9"/>
<line x1="340.7" y1="643.3" x2="512.9" y2="643.3" stroke="#0a0a0a" stroke-width="1.9"/>
<line x1="342.8" y1="524.0" x2="342.8" y2="643.3" stroke="#0a0a0a" stroke-width="1.8"/>
<path d="M341.6 643.30h-5.6 M341.6 637.17h-3.1 M341.6 631.04h-3.1 M341.6 624.90h-3.1 M341.6 618.77h-3.1 M341.6 612.64h-5.6 M341.6 606.51h-3.1 M341.6 600.38h-3.1 M341.6 594.24h-3.1 M341.6 588.11h-3.1 M341.6 581.98h-5.6 M341.6 575.85h-3.1 M341.6 569.72h-3.1 M341.6 563.58h-3.1 M341.6 557.45h-3.1 M341.6 551.32h-5.6 M341.6 545.19h-3.1 M341.6 539.06h-3.1 M341.6 532.92h-3.1 M341.6 526.79h-3.1 M341.6 520.66h-5.6 M341.6 514.53h-3.1 M341.6 508.40h-3.1 M341.6 502.26h-3.1 M341.6 496.13h-3.1 M341.6 490.00h-5.6" stroke="#0a0a0a" stroke-width="1.25" fill="none"/>
<path d="M342.30 643.3v5.4 M354.99 643.3v3.4 M362.41 643.3v3.4 M367.68 643.3v3.4 M371.76 643.3v3.4 M375.10 643.3v3.4 M377.92 643.3v3.4 M380.37 643.3v3.4 M382.52 643.3v3.4 M384.45 643.3v5.4 M397.14 643.3v3.4 M404.56 643.3v3.4 M409.83 643.3v3.4 M413.91 643.3v3.4 M417.25 643.3v3.4 M420.07 643.3v3.4 M422.52 643.3v3.4 M424.67 643.3v3.4 M426.60 643.3v5.4 M439.29 643.3v3.4 M446.71 643.3v3.4 M451.98 643.3v3.4 M456.06 643.3v3.4 M459.40 643.3v3.4 M462.22 643.3v3.4 M464.67 643.3v3.4 M466.82 643.3v3.4 M468.75 643.3v5.4 M481.44 643.3v3.4 M488.86 643.3v3.4 M494.13 643.3v3.4 M498.21 643.3v3.4 M501.55 643.3v3.4 M504.37 643.3v3.4 M506.82 643.3v3.4 M508.97 643.3v3.4 M510.90 643.3v5.4" stroke="#0a0a0a" stroke-width="1.15" fill="none"/>
<text transform="translate(332.6 642.4) rotate(-90)" text-anchor="middle" font-size="10.3" textLength="5.0" lengthAdjust="spacingAndGlyphs" stroke="#000" stroke-width="0.35">0</text>
<text transform="translate(332.6 611.7) rotate(-90)" text-anchor="middle" font-size="10.3" textLength="10.0" lengthAdjust="spacingAndGlyphs" stroke="#000" stroke-width="0.35">40</text>
<text transform="translate(332.6 581.1) rotate(-90)" text-anchor="middle" font-size="10.3" textLength="10.0" lengthAdjust="spacingAndGlyphs" stroke="#000" stroke-width="0.35">80</text>
<text transform="translate(332.6 550.4) rotate(-90)" text-anchor="middle" font-size="10.3" textLength="15.0" lengthAdjust="spacingAndGlyphs" stroke="#000" stroke-width="0.35">120</text>
<text transform="translate(332.6 519.8) rotate(-90)" text-anchor="middle" font-size="10.3" textLength="15.0" lengthAdjust="spacingAndGlyphs" stroke="#000" stroke-width="0.35">160</text>
<text transform="translate(332.6 490.6) rotate(-90)" text-anchor="middle" font-size="10.3" textLength="15.0" lengthAdjust="spacingAndGlyphs" stroke="#000" stroke-width="0.35">200</text>
<text x="334.8" y="660.9" font-size="11.2" textLength="9.2" lengthAdjust="spacingAndGlyphs" stroke="#000" stroke-width="0.4">10</text>
<text x="345.0" y="655.3" font-size="10.2" textLength="5.0" lengthAdjust="spacingAndGlyphs" stroke="#000" stroke-width="0.35">0</text>
<text x="376.9" y="660.9" font-size="11.2" textLength="9.2" lengthAdjust="spacingAndGlyphs" stroke="#000" stroke-width="0.4">10</text>
<text x="387.1" y="655.3" font-size="10.2" textLength="5.0" lengthAdjust="spacingAndGlyphs" stroke="#000" stroke-width="0.35">1</text>
<text x="419.1" y="660.9" font-size="11.2" textLength="9.2" lengthAdjust="spacingAndGlyphs" stroke="#000" stroke-width="0.4">10</text>
<text x="429.3" y="655.3" font-size="10.2" textLength="5.0" lengthAdjust="spacingAndGlyphs" stroke="#000" stroke-width="0.35">2</text>
<text x="461.2" y="660.9" font-size="11.2" textLength="9.2" lengthAdjust="spacingAndGlyphs" stroke="#000" stroke-width="0.4">10</text>
<text x="471.4" y="655.3" font-size="10.2" textLength="5.0" lengthAdjust="spacingAndGlyphs" stroke="#000" stroke-width="0.35">3</text>
<text x="503.4" y="660.9" font-size="11.2" textLength="9.2" lengthAdjust="spacingAndGlyphs" stroke="#000" stroke-width="0.4">10</text>
<text x="513.6" y="655.3" font-size="10.2" textLength="5.0" lengthAdjust="spacingAndGlyphs" stroke="#000" stroke-width="0.35">4</text>
<text transform="translate(459.2 510.8) scale(0.87 1)" font-size="14.2" letter-spacing="2.85" stroke="#000" stroke-width="0.6">THP-1</text>
</g>
<line x1="109.4" y1="52.6" x2="100.4" y2="60.8" stroke="#000" stroke-width="1.7"/><polygon points="92.3,68.5 96.2,58.0 104.6,63.5" fill="#000"/>
<text x="111.5" y="54.8" font-size="13.4" textLength="34.7" lengthAdjust="spacingAndGlyphs" stroke="#000" stroke-width="0.2">EDTA</text>
<line x1="177.2" y1="82.0" x2="168.9" y2="88.1" stroke="#000" stroke-width="1.7"/><polygon points="160.0,95.5 165.4,85.0 172.3,91.2" fill="#000"/>
<text x="181.8" y="84.8" font-size="13.4" textLength="16.8" lengthAdjust="spacingAndGlyphs" stroke="#000" stroke-width="0.2">Mn</text>
<text x="199.6" y="80.6" font-size="10.5" textLength="12.6" lengthAdjust="spacingAndGlyphs" stroke="#000" stroke-width="0.3">++</text>
<text transform="translate(17.8 449.5) rotate(-90)" font-size="22.1" textLength="75.5" lengthAdjust="spacingAndGlyphs" stroke="#000" stroke-width="0.55">Relative</text>
<text transform="translate(17.8 354.6) rotate(-90)" font-size="22.1" textLength="33.2" lengthAdjust="spacingAndGlyphs" stroke="#000" stroke-width="0.55">Cell</text>
<text transform="translate(17.8 302.2) rotate(-90)" font-size="22.1" textLength="83.8" lengthAdjust="spacingAndGlyphs" stroke="#000" stroke-width="0.55">Numbers</text>
<text x="103.6" y="706.6" font-size="22.1" textLength="81.8" lengthAdjust="spacingAndGlyphs" stroke="#000" stroke-width="0.55">VCAM-Ig</text>
<text x="206.2" y="706.6" font-size="22.1" textLength="68.2" lengthAdjust="spacingAndGlyphs" stroke="#000" stroke-width="0.55">Binding</text>
<text x="294.2" y="706.6" font-size="22.1" textLength="43.1" lengthAdjust="spacingAndGlyphs" stroke="#000" stroke-width="0.55">(Log</text>
<text x="357.0" y="706.6" font-size="22.1" textLength="135.3" lengthAdjust="spacingAndGlyphs" stroke="#000" stroke-width="0.55">Fluorescence)</text>
</svg>
</body>
</html>
